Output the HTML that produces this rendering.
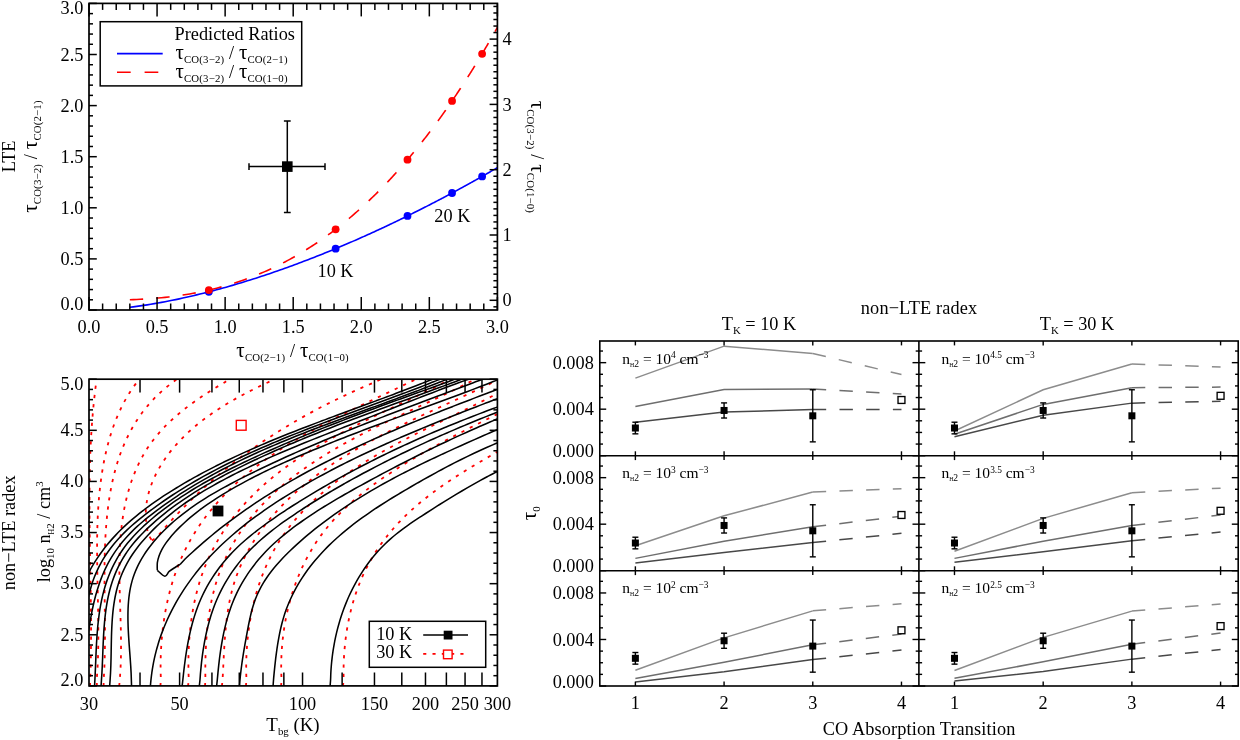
<!DOCTYPE html>
<html lang="en">
<head>
<meta charset="utf-8">
<title>CO optical depth ratios</title>
<style>
html,body{margin:0;padding:0;background:#fff;}
body{width:1240px;height:740px;overflow:hidden;}
svg{display:block;font-family:"Liberation Serif", "DejaVu Serif", serif;will-change:transform;opacity:0.9999;}
text{white-space:pre;}
</style>
</head>
<body>
<svg width="1240" height="740" viewBox="0 0 1240 740">
<rect x="0" y="0" width="1240" height="740" fill="#ffffff"/>
<g id="lte">
<clipPath id="clip1"><rect x="89.0" y="3.4" width="408.4" height="306.6"/></clipPath>
<g clip-path="url(#clip1)">
<path d="M129.85 299.78 L133.25 299.64 L136.69 299.49 L140.17 299.31 L143.68 299.11 L147.22 298.89 L150.77 298.64 L154.34 298.36 L157.91 298.05 L161.48 297.71 L165.06 297.35 L168.62 296.95 L172.18 296.52 L175.73 296.07 L179.26 295.58 L182.78 295.06 L186.28 294.51 L189.75 293.93 L193.2 293.32 L196.63 292.67 L200.03 292 L203.4 291.3 L206.74 290.57 L210.06 289.81 L213.34 289.02 L216.6 288.2 L219.82 287.36 L223.01 286.49 L226.17 285.59 L229.29 284.67 L232.38 283.73 L235.44 282.76 L238.47 281.76 L241.46 280.75 L244.42 279.71 L247.34 278.65 L250.23 277.57 L253.09 276.47 L255.92 275.35 L258.71 274.21 L261.47 273.05 L264.2 271.88 L266.9 270.69 L269.56 269.49 L272.19 268.27 L274.8 267.03 L277.37 265.78 L279.91 264.52 L282.42 263.25 L284.9 261.96 L287.35 260.66 L289.77 259.35 L292.16 258.03 L294.52 256.7 L296.85 255.36 L299.16 254.01 L301.44 252.66 L303.69 251.29 L305.92 249.92 L308.12 248.54 L310.29 247.16 L312.44 245.77 L314.56 244.37 L316.66 242.97 L318.73 241.56 L320.77 240.15 L322.8 238.74 L324.8 237.32 L326.78 235.9 L328.73 234.47 L330.66 233.05 L332.57 231.62 L334.46 230.18 L336.32 228.75 L338.17 227.32 L339.99 225.88 L341.79 224.44 L343.57 223.01 L345.33 221.57 L347.08 220.13 L348.8 218.69 L350.5 217.26 L352.19 215.82 L353.85 214.38 L355.5 212.95 L357.13 211.51 L358.74 210.08 L360.33 208.65 L361.91 207.22 L363.47 205.8 L365.01 204.37 L366.54 202.95 L368.05 201.53 L369.54 200.11 L371.02 198.69 L372.48 197.28 L373.93 195.87 L375.36 194.46 L376.78 193.06 L378.18 191.66 L379.57 190.26 L380.94 188.87 L382.3 187.48 L383.65 186.09 L384.98 184.71 L386.3 183.33 L387.6 181.95 L388.89 180.58 L390.17 179.21 L391.44 177.85 L392.69 176.49 L393.93 175.14 L395.16 173.79 L396.37 172.44 L397.58 171.1 L398.77 169.76 L399.95 168.43 L401.12 167.1 L402.28 165.78 L403.43 164.46 L404.57 163.14 L405.69 161.83 L406.81 160.53 L407.91 159.23 L409.01 157.93 L410.09 156.64 L411.16 155.36 L412.23 154.08 L413.28 152.8 L414.33 151.53 L415.36 150.26 L416.39 149 L417.4 147.75 L418.41 146.5 L419.41 145.25 L420.4 144.01 L421.38 142.77 L422.35 141.54 L423.31 140.31 L424.26 139.09 L425.21 137.88 L426.15 136.67 L427.08 135.46 L428 134.26 L428.91 133.06 L429.82 131.87 L430.71 130.69 L431.6 129.5 L432.49 128.33 L433.36 127.16 L434.23 125.99 L435.09 124.83 L435.94 123.68 L436.79 122.53 L437.62 121.38 L438.46 120.24 L439.28 119.1 L440.1 117.97 L440.91 116.85 L441.71 115.72 L442.51 114.61 L443.3 113.5 L444.09 112.39 L444.87 111.29 L445.64 110.19 L446.41 109.1 L447.17 108.01 L447.92 106.93 L448.67 105.86 L449.41 104.78 L450.15 103.72 L450.88 102.65 L451.6 101.59 L452.32 100.54 L453.04 99.49 L453.75 98.45 L454.45 97.41 L455.15 96.38 L455.84 95.35 L456.52 94.32 L457.21 93.3 L457.88 92.28 L458.55 91.27 L459.22 90.26 L459.88 89.26 L460.54 88.26 L461.19 87.27 L461.84 86.28 L462.48 85.3 L463.12 84.32 L463.75 83.34 L464.38 82.37 L465 81.4 L465.62 80.44 L466.23 79.48 L466.84 78.53 L467.45 77.58 L468.05 76.63 L468.65 75.69 L469.24 74.76 L469.83 73.82 L470.42 72.9 L471 71.97 L471.57 71.05 L472.14 70.14 L472.71 69.22 L473.28 68.32 L473.84 67.41 L474.39 66.51 L474.95 65.62 L475.5 64.73 L476.04 63.84 L476.58 62.95 L477.12 62.08 L477.66 61.2 L478.19 60.33 L478.71 59.46 L479.24 58.6 L479.76 57.74 L480.27 56.88 L480.79 56.03 L481.3 55.18 L481.8 54.33 L482.31 53.49 L482.81 52.65 L483.3 51.82 L483.8 50.99 L484.29 50.16 L484.77 49.34 L485.26 48.52 L485.74 47.71 L486.22 46.89 L486.69 46.09 L487.16 45.28 L487.63 44.48 L488.1 43.68 L488.56 42.89 L489.02 42.1 L489.48 41.31 L489.93 40.52 L490.38 39.74 L490.83 38.97 L491.28 38.19 L491.72 37.42 L492.16 36.66 L492.6 35.89 L493.03 35.13 L493.46 34.37 L493.89 33.62 L494.32 32.87 L494.75 32.12 L495.17 31.38 L495.59 30.64 L496 29.9 L496.42 29.16 L496.83 28.43 L497.24 27.7 L497.65 26.98 L498.05 26.26 L498.45 25.54 L498.85 24.82 L499.25 24.11 L499.65 23.4 L500.04 22.69 L500.43 21.99 L500.82 21.28 L501.2 20.59 L501.59 19.89 L501.97 19.2 L502.35 18.51 L502.73 17.82 L503.1 17.14 L503.47 16.46 L503.84 15.78 L504.21 15.11 L504.58 14.43 L504.94 13.76 L505.31 13.1 L505.67 12.43 L506.03 11.77 L506.38 11.11 L506.74 10.46 L507.09 9.8 L507.44 9.15 L507.79 8.51 L508.14 7.86 L508.48 7.22 L508.83 6.58 L509.17 5.94 L509.51 5.31 L509.84 4.68 L510.18 4.05 L510.51 3.42 L510.85 2.8 L511.18 2.17 L511.5 1.55 L511.83 0.94 L512.16 0.32 L512.48 -0.29 L512.8 -0.9 L513.12 -1.5 L513.44 -2.11 L513.76 -2.71 L514.07 -3.31 L514.38 -3.91 L514.7 -4.5 L515.01 -5.1 L515.32 -5.69 L515.62 -6.27 L515.93 -6.86 L516.23 -7.44 L516.53 -8.02 L516.83 -8.6 L517.13 -9.18 L517.43 -9.75 L517.73 -10.32 L518.02 -10.89 L518.31 -11.46 L518.61 -12.03 L518.9 -12.59 L519.18 -13.15 L519.47 -13.71 L519.76 -14.26 L520.04 -14.82 L520.33 -15.37 L520.61 -15.92 L520.89 -16.47 L521.17 -17.01 L521.44 -17.56 L521.72 -18.1 L521.99 -18.64 L522.27 -19.18 L522.54 -19.71 L522.81 -20.24 L523.08 -20.78 L523.35 -21.3 L523.62 -21.83 L523.88 -22.36 L524.15 -22.88 L524.41 -23.4 L524.67 -23.92 L524.93 -24.44 L525.19 -24.95 L525.45 -25.47 L525.7 -25.98 L525.96 -26.49 L526.21 -27 L526.47 -27.5 L526.72 -28.01 L526.97 -28.51 L527.22 -29.01 L527.47 -29.51 L527.72 -30 L527.96 -30.5 L528.21 -30.99 L528.45 -31.48 L528.69 -31.97 L528.94 -32.46 L529.18 -32.94 L529.42 -33.43 L529.66 -33.91 L529.89 -34.39 L530.13 -34.87 L530.36 -35.34 L530.6 -35.82 L530.83 -36.29 L531.06 -36.76 L531.29 -37.23 L531.52 -37.7 L531.75 -38.17 L531.98 -38.63 L532.21 -39.1 L532.43 -39.56" fill="none" stroke="#ff0000" stroke-width="1.6" stroke-dasharray="13.3 13.2"/>
<path d="M129.85 307.27 L133.25 306.84 L136.69 306.38 L140.17 305.9 L143.68 305.38 L147.22 304.84 L150.77 304.26 L154.34 303.66 L157.91 303.04 L161.48 302.4 L165.06 301.73 L168.62 301.04 L172.18 300.33 L175.73 299.6 L179.26 298.85 L182.78 298.09 L186.28 297.31 L189.75 296.52 L193.2 295.72 L196.63 294.9 L200.03 294.07 L203.4 293.24 L206.74 292.39 L210.06 291.53 L213.34 290.67 L216.6 289.8 L219.82 288.92 L223.01 288.04 L226.17 287.16 L229.29 286.27 L232.38 285.37 L235.44 284.47 L238.47 283.57 L241.46 282.67 L244.42 281.77 L247.34 280.86 L250.23 279.96 L253.09 279.06 L255.92 278.15 L258.71 277.25 L261.47 276.34 L264.2 275.44 L266.9 274.54 L269.56 273.64 L272.19 272.74 L274.8 271.85 L277.37 270.96 L279.91 270.07 L282.42 269.18 L284.9 268.3 L287.35 267.42 L289.77 266.54 L292.16 265.67 L294.52 264.8 L296.85 263.94 L299.16 263.08 L301.44 262.22 L303.69 261.37 L305.92 260.52 L308.12 259.67 L310.29 258.84 L312.44 258 L314.56 257.17 L316.66 256.35 L318.73 255.53 L320.77 254.71 L322.8 253.9 L324.8 253.09 L326.78 252.29 L328.73 251.5 L330.66 250.71 L332.57 249.92 L334.46 249.14 L336.32 248.36 L338.17 247.59 L339.99 246.83 L341.79 246.07 L343.57 245.31 L345.33 244.56 L347.08 243.82 L348.8 243.08 L350.5 242.34 L352.19 241.61 L353.85 240.88 L355.5 240.16 L357.13 239.45 L358.74 238.74 L360.33 238.04 L361.91 237.33 L363.47 236.64 L365.01 235.95 L366.54 235.26 L368.05 234.58 L369.54 233.91 L371.02 233.24 L372.48 232.57 L373.93 231.91 L375.36 231.25 L376.78 230.6 L378.18 229.96 L379.57 229.31 L380.94 228.68 L382.3 228.04 L383.65 227.41 L384.98 226.79 L386.3 226.17 L387.6 225.56 L388.89 224.95 L390.17 224.34 L391.44 223.74 L392.69 223.14 L393.93 222.55 L395.16 221.96 L396.37 221.37 L397.58 220.79 L398.77 220.22 L399.95 219.64 L401.12 219.08 L402.28 218.51 L403.43 217.95 L404.57 217.4 L405.69 216.84 L406.81 216.3 L407.91 215.75 L409.01 215.21 L410.09 214.68 L411.16 214.14 L412.23 213.61 L413.28 213.09 L414.33 212.57 L415.36 212.05 L416.39 211.54 L417.4 211.03 L418.41 210.52 L419.41 210.02 L420.4 209.52 L421.38 209.02 L422.35 208.53 L423.31 208.04 L424.26 207.55 L425.21 207.07 L426.15 206.59 L427.08 206.12 L428 205.64 L428.91 205.17 L429.82 204.71 L430.71 204.24 L431.6 203.79 L432.49 203.33 L433.36 202.88 L434.23 202.42 L435.09 201.98 L435.94 201.53 L436.79 201.09 L437.62 200.65 L438.46 200.22 L439.28 199.79 L440.1 199.36 L440.91 198.93 L441.71 198.51 L442.51 198.08 L443.3 197.67 L444.09 197.25 L444.87 196.84 L445.64 196.43 L446.41 196.02 L447.17 195.62 L447.92 195.21 L448.67 194.82 L449.41 194.42 L450.15 194.02 L450.88 193.63 L451.6 193.24 L452.32 192.86 L453.04 192.47 L453.75 192.09 L454.45 191.71 L455.15 191.34 L455.84 190.96 L456.52 190.59 L457.21 190.22 L457.88 189.85 L458.55 189.49 L459.22 189.13 L459.88 188.77 L460.54 188.41 L461.19 188.05 L461.84 187.7 L462.48 187.35 L463.12 187 L463.75 186.65 L464.38 186.31 L465 185.96 L465.62 185.62 L466.23 185.28 L466.84 184.95 L467.45 184.61 L468.05 184.28 L468.65 183.95 L469.24 183.62 L469.83 183.3 L470.42 182.97 L471 182.65 L471.57 182.33 L472.14 182.01 L472.71 181.69 L473.28 181.38 L473.84 181.07 L474.39 180.75 L474.95 180.44 L475.5 180.14 L476.04 179.83 L476.58 179.53 L477.12 179.23 L477.66 178.93 L478.19 178.63 L478.71 178.33 L479.24 178.04 L479.76 177.74 L480.27 177.45 L480.79 177.16 L481.3 176.87 L481.8 176.59 L482.31 176.3 L482.81 176.02 L483.3 175.73 L483.8 175.45 L484.29 175.18 L484.77 174.9 L485.26 174.62 L485.74 174.35 L486.22 174.08 L486.69 173.81 L487.16 173.54 L487.63 173.27 L488.1 173 L488.56 172.74 L489.02 172.47 L489.48 172.21 L489.93 171.95 L490.38 171.69 L490.83 171.43 L491.28 171.18 L491.72 170.92 L492.16 170.67 L492.6 170.42 L493.03 170.17 L493.46 169.92 L493.89 169.67 L494.32 169.42 L494.75 169.18 L495.17 168.93 L495.59 168.69 L496 168.45 L496.42 168.21 L496.83 167.97 L497.24 167.73 L497.65 167.5 L498.05 167.26 L498.45 167.03 L498.85 166.79 L499.25 166.56 L499.65 166.33 L500.04 166.1 L500.43 165.87 L500.82 165.65 L501.2 165.42 L501.59 165.2 L501.97 164.97 L502.35 164.75 L502.73 164.53 L503.1 164.31 L503.47 164.09 L503.84 163.87 L504.21 163.66 L504.58 163.44 L504.94 163.23 L505.31 163.01 L505.67 162.8 L506.03 162.59 L506.38 162.38 L506.74 162.17 L507.09 161.96 L507.44 161.76 L507.79 161.55 L508.14 161.34 L508.48 161.14 L508.83 160.94 L509.17 160.74 L509.51 160.53 L509.84 160.33 L510.18 160.14 L510.51 159.94 L510.85 159.74 L511.18 159.54 L511.5 159.35 L511.83 159.15 L512.16 158.96 L512.48 158.77 L512.8 158.58 L513.12 158.39 L513.44 158.2 L513.76 158.01 L514.07 157.82 L514.38 157.63 L514.7 157.45 L515.01 157.26 L515.32 157.08 L515.62 156.89 L515.93 156.71 L516.23 156.53 L516.53 156.35 L516.83 156.17 L517.13 155.99 L517.43 155.81 L517.73 155.63 L518.02 155.46 L518.31 155.28 L518.61 155.1 L518.9 154.93 L519.18 154.76 L519.47 154.58 L519.76 154.41 L520.04 154.24 L520.33 154.07 L520.61 153.9 L520.89 153.73 L521.17 153.56 L521.44 153.4 L521.72 153.23 L521.99 153.06 L522.27 152.9 L522.54 152.73 L522.81 152.57 L523.08 152.41 L523.35 152.24 L523.62 152.08 L523.88 151.92 L524.15 151.76 L524.41 151.6 L524.67 151.44 L524.93 151.28 L525.19 151.13 L525.45 150.97 L525.7 150.81 L525.96 150.66 L526.21 150.5 L526.47 150.35 L526.72 150.2 L526.97 150.04 L527.22 149.89 L527.47 149.74 L527.72 149.59 L527.96 149.44 L528.21 149.29 L528.45 149.14 L528.69 148.99 L528.94 148.85 L529.18 148.7 L529.42 148.55 L529.66 148.41 L529.89 148.26 L530.13 148.12 L530.36 147.97 L530.6 147.83 L530.83 147.69 L531.06 147.55 L531.29 147.4 L531.52 147.26 L531.75 147.12 L531.98 146.98 L532.21 146.84 L532.43 146.71" fill="none" stroke="#0000ff" stroke-width="1.6" />
</g>
<circle cx="208.84" cy="291.85" r="3.9" fill="#0000ff"/>
<circle cx="208.84" cy="290.09" r="3.9" fill="#ff0000"/>
<circle cx="335.63" cy="248.65" r="3.9" fill="#0000ff"/>
<circle cx="335.63" cy="229.28" r="3.9" fill="#ff0000"/>
<circle cx="407.5" cy="215.95" r="3.9" fill="#0000ff"/>
<circle cx="407.5" cy="159.71" r="3.9" fill="#ff0000"/>
<circle cx="452.06" cy="193" r="3.9" fill="#0000ff"/>
<circle cx="452.06" cy="100.93" r="3.9" fill="#ff0000"/>
<circle cx="482.12" cy="176.41" r="3.9" fill="#0000ff"/>
<circle cx="482.12" cy="53.8" r="3.9" fill="#ff0000"/>
<rect x="89" y="3.4" width="408.4" height="306.6" fill="none" stroke="#000" stroke-width="1.7" />
<line x1="89" y1="310" x2="89" y2="297" stroke="#000" stroke-width="1.5" />
<line x1="89" y1="3.4" x2="89" y2="16.4" stroke="#000" stroke-width="1.5" />
<line x1="89" y1="310" x2="96.8" y2="310" stroke="#000" stroke-width="1.5" />
<line x1="102.61" y1="310" x2="102.61" y2="303.5" stroke="#000" stroke-width="1.5" />
<line x1="102.61" y1="3.4" x2="102.61" y2="9.9" stroke="#000" stroke-width="1.5" />
<line x1="89" y1="299.78" x2="93" y2="299.78" stroke="#000" stroke-width="1.5" />
<line x1="116.23" y1="310" x2="116.23" y2="303.5" stroke="#000" stroke-width="1.5" />
<line x1="116.23" y1="3.4" x2="116.23" y2="9.9" stroke="#000" stroke-width="1.5" />
<line x1="89" y1="289.56" x2="93" y2="289.56" stroke="#000" stroke-width="1.5" />
<line x1="129.84" y1="310" x2="129.84" y2="303.5" stroke="#000" stroke-width="1.5" />
<line x1="129.84" y1="3.4" x2="129.84" y2="9.9" stroke="#000" stroke-width="1.5" />
<line x1="89" y1="279.34" x2="93" y2="279.34" stroke="#000" stroke-width="1.5" />
<line x1="143.45" y1="310" x2="143.45" y2="303.5" stroke="#000" stroke-width="1.5" />
<line x1="143.45" y1="3.4" x2="143.45" y2="9.9" stroke="#000" stroke-width="1.5" />
<line x1="89" y1="269.12" x2="93" y2="269.12" stroke="#000" stroke-width="1.5" />
<line x1="157.07" y1="310" x2="157.07" y2="297" stroke="#000" stroke-width="1.5" />
<line x1="157.07" y1="3.4" x2="157.07" y2="16.4" stroke="#000" stroke-width="1.5" />
<line x1="89" y1="258.9" x2="96.8" y2="258.9" stroke="#000" stroke-width="1.5" />
<line x1="170.68" y1="310" x2="170.68" y2="303.5" stroke="#000" stroke-width="1.5" />
<line x1="170.68" y1="3.4" x2="170.68" y2="9.9" stroke="#000" stroke-width="1.5" />
<line x1="89" y1="248.68" x2="93" y2="248.68" stroke="#000" stroke-width="1.5" />
<line x1="184.29" y1="310" x2="184.29" y2="303.5" stroke="#000" stroke-width="1.5" />
<line x1="184.29" y1="3.4" x2="184.29" y2="9.9" stroke="#000" stroke-width="1.5" />
<line x1="89" y1="238.46" x2="93" y2="238.46" stroke="#000" stroke-width="1.5" />
<line x1="197.91" y1="310" x2="197.91" y2="303.5" stroke="#000" stroke-width="1.5" />
<line x1="197.91" y1="3.4" x2="197.91" y2="9.9" stroke="#000" stroke-width="1.5" />
<line x1="89" y1="228.24" x2="93" y2="228.24" stroke="#000" stroke-width="1.5" />
<line x1="211.52" y1="310" x2="211.52" y2="303.5" stroke="#000" stroke-width="1.5" />
<line x1="211.52" y1="3.4" x2="211.52" y2="9.9" stroke="#000" stroke-width="1.5" />
<line x1="89" y1="218.02" x2="93" y2="218.02" stroke="#000" stroke-width="1.5" />
<line x1="225.13" y1="310" x2="225.13" y2="297" stroke="#000" stroke-width="1.5" />
<line x1="225.13" y1="3.4" x2="225.13" y2="16.4" stroke="#000" stroke-width="1.5" />
<line x1="89" y1="207.8" x2="96.8" y2="207.8" stroke="#000" stroke-width="1.5" />
<line x1="238.75" y1="310" x2="238.75" y2="303.5" stroke="#000" stroke-width="1.5" />
<line x1="238.75" y1="3.4" x2="238.75" y2="9.9" stroke="#000" stroke-width="1.5" />
<line x1="89" y1="197.58" x2="93" y2="197.58" stroke="#000" stroke-width="1.5" />
<line x1="252.36" y1="310" x2="252.36" y2="303.5" stroke="#000" stroke-width="1.5" />
<line x1="252.36" y1="3.4" x2="252.36" y2="9.9" stroke="#000" stroke-width="1.5" />
<line x1="89" y1="187.36" x2="93" y2="187.36" stroke="#000" stroke-width="1.5" />
<line x1="265.97" y1="310" x2="265.97" y2="303.5" stroke="#000" stroke-width="1.5" />
<line x1="265.97" y1="3.4" x2="265.97" y2="9.9" stroke="#000" stroke-width="1.5" />
<line x1="89" y1="177.14" x2="93" y2="177.14" stroke="#000" stroke-width="1.5" />
<line x1="279.59" y1="310" x2="279.59" y2="303.5" stroke="#000" stroke-width="1.5" />
<line x1="279.59" y1="3.4" x2="279.59" y2="9.9" stroke="#000" stroke-width="1.5" />
<line x1="89" y1="166.92" x2="93" y2="166.92" stroke="#000" stroke-width="1.5" />
<line x1="293.2" y1="310" x2="293.2" y2="297" stroke="#000" stroke-width="1.5" />
<line x1="293.2" y1="3.4" x2="293.2" y2="16.4" stroke="#000" stroke-width="1.5" />
<line x1="89" y1="156.7" x2="96.8" y2="156.7" stroke="#000" stroke-width="1.5" />
<line x1="306.81" y1="310" x2="306.81" y2="303.5" stroke="#000" stroke-width="1.5" />
<line x1="306.81" y1="3.4" x2="306.81" y2="9.9" stroke="#000" stroke-width="1.5" />
<line x1="89" y1="146.48" x2="93" y2="146.48" stroke="#000" stroke-width="1.5" />
<line x1="320.43" y1="310" x2="320.43" y2="303.5" stroke="#000" stroke-width="1.5" />
<line x1="320.43" y1="3.4" x2="320.43" y2="9.9" stroke="#000" stroke-width="1.5" />
<line x1="89" y1="136.26" x2="93" y2="136.26" stroke="#000" stroke-width="1.5" />
<line x1="334.04" y1="310" x2="334.04" y2="303.5" stroke="#000" stroke-width="1.5" />
<line x1="334.04" y1="3.4" x2="334.04" y2="9.9" stroke="#000" stroke-width="1.5" />
<line x1="89" y1="126.04" x2="93" y2="126.04" stroke="#000" stroke-width="1.5" />
<line x1="347.65" y1="310" x2="347.65" y2="303.5" stroke="#000" stroke-width="1.5" />
<line x1="347.65" y1="3.4" x2="347.65" y2="9.9" stroke="#000" stroke-width="1.5" />
<line x1="89" y1="115.82" x2="93" y2="115.82" stroke="#000" stroke-width="1.5" />
<line x1="361.27" y1="310" x2="361.27" y2="297" stroke="#000" stroke-width="1.5" />
<line x1="361.27" y1="3.4" x2="361.27" y2="16.4" stroke="#000" stroke-width="1.5" />
<line x1="89" y1="105.6" x2="96.8" y2="105.6" stroke="#000" stroke-width="1.5" />
<line x1="374.88" y1="310" x2="374.88" y2="303.5" stroke="#000" stroke-width="1.5" />
<line x1="374.88" y1="3.4" x2="374.88" y2="9.9" stroke="#000" stroke-width="1.5" />
<line x1="89" y1="95.38" x2="93" y2="95.38" stroke="#000" stroke-width="1.5" />
<line x1="388.49" y1="310" x2="388.49" y2="303.5" stroke="#000" stroke-width="1.5" />
<line x1="388.49" y1="3.4" x2="388.49" y2="9.9" stroke="#000" stroke-width="1.5" />
<line x1="89" y1="85.16" x2="93" y2="85.16" stroke="#000" stroke-width="1.5" />
<line x1="402.11" y1="310" x2="402.11" y2="303.5" stroke="#000" stroke-width="1.5" />
<line x1="402.11" y1="3.4" x2="402.11" y2="9.9" stroke="#000" stroke-width="1.5" />
<line x1="89" y1="74.94" x2="93" y2="74.94" stroke="#000" stroke-width="1.5" />
<line x1="415.72" y1="310" x2="415.72" y2="303.5" stroke="#000" stroke-width="1.5" />
<line x1="415.72" y1="3.4" x2="415.72" y2="9.9" stroke="#000" stroke-width="1.5" />
<line x1="89" y1="64.72" x2="93" y2="64.72" stroke="#000" stroke-width="1.5" />
<line x1="429.33" y1="310" x2="429.33" y2="297" stroke="#000" stroke-width="1.5" />
<line x1="429.33" y1="3.4" x2="429.33" y2="16.4" stroke="#000" stroke-width="1.5" />
<line x1="89" y1="54.5" x2="96.8" y2="54.5" stroke="#000" stroke-width="1.5" />
<line x1="442.95" y1="310" x2="442.95" y2="303.5" stroke="#000" stroke-width="1.5" />
<line x1="442.95" y1="3.4" x2="442.95" y2="9.9" stroke="#000" stroke-width="1.5" />
<line x1="89" y1="44.28" x2="93" y2="44.28" stroke="#000" stroke-width="1.5" />
<line x1="456.56" y1="310" x2="456.56" y2="303.5" stroke="#000" stroke-width="1.5" />
<line x1="456.56" y1="3.4" x2="456.56" y2="9.9" stroke="#000" stroke-width="1.5" />
<line x1="89" y1="34.06" x2="93" y2="34.06" stroke="#000" stroke-width="1.5" />
<line x1="470.17" y1="310" x2="470.17" y2="303.5" stroke="#000" stroke-width="1.5" />
<line x1="470.17" y1="3.4" x2="470.17" y2="9.9" stroke="#000" stroke-width="1.5" />
<line x1="89" y1="23.84" x2="93" y2="23.84" stroke="#000" stroke-width="1.5" />
<line x1="483.79" y1="310" x2="483.79" y2="303.5" stroke="#000" stroke-width="1.5" />
<line x1="483.79" y1="3.4" x2="483.79" y2="9.9" stroke="#000" stroke-width="1.5" />
<line x1="89" y1="13.62" x2="93" y2="13.62" stroke="#000" stroke-width="1.5" />
<line x1="497.4" y1="310" x2="497.4" y2="297" stroke="#000" stroke-width="1.5" />
<line x1="497.4" y1="3.4" x2="497.4" y2="16.4" stroke="#000" stroke-width="1.5" />
<line x1="89" y1="3.4" x2="96.8" y2="3.4" stroke="#000" stroke-width="1.5" />
<line x1="497.4" y1="306.83" x2="493.4" y2="306.83" stroke="#000" stroke-width="1.5" />
<line x1="497.4" y1="300.3" x2="489.6" y2="300.3" stroke="#000" stroke-width="1.5" />
<line x1="497.4" y1="293.77" x2="493.4" y2="293.77" stroke="#000" stroke-width="1.5" />
<line x1="497.4" y1="287.24" x2="493.4" y2="287.24" stroke="#000" stroke-width="1.5" />
<line x1="497.4" y1="280.71" x2="493.4" y2="280.71" stroke="#000" stroke-width="1.5" />
<line x1="497.4" y1="274.18" x2="493.4" y2="274.18" stroke="#000" stroke-width="1.5" />
<line x1="497.4" y1="267.65" x2="493.4" y2="267.65" stroke="#000" stroke-width="1.5" />
<line x1="497.4" y1="261.12" x2="493.4" y2="261.12" stroke="#000" stroke-width="1.5" />
<line x1="497.4" y1="254.59" x2="493.4" y2="254.59" stroke="#000" stroke-width="1.5" />
<line x1="497.4" y1="248.06" x2="493.4" y2="248.06" stroke="#000" stroke-width="1.5" />
<line x1="497.4" y1="241.53" x2="493.4" y2="241.53" stroke="#000" stroke-width="1.5" />
<line x1="497.4" y1="235" x2="489.6" y2="235" stroke="#000" stroke-width="1.5" />
<line x1="497.4" y1="228.47" x2="493.4" y2="228.47" stroke="#000" stroke-width="1.5" />
<line x1="497.4" y1="221.94" x2="493.4" y2="221.94" stroke="#000" stroke-width="1.5" />
<line x1="497.4" y1="215.41" x2="493.4" y2="215.41" stroke="#000" stroke-width="1.5" />
<line x1="497.4" y1="208.88" x2="493.4" y2="208.88" stroke="#000" stroke-width="1.5" />
<line x1="497.4" y1="202.35" x2="493.4" y2="202.35" stroke="#000" stroke-width="1.5" />
<line x1="497.4" y1="195.82" x2="493.4" y2="195.82" stroke="#000" stroke-width="1.5" />
<line x1="497.4" y1="189.29" x2="493.4" y2="189.29" stroke="#000" stroke-width="1.5" />
<line x1="497.4" y1="182.76" x2="493.4" y2="182.76" stroke="#000" stroke-width="1.5" />
<line x1="497.4" y1="176.23" x2="493.4" y2="176.23" stroke="#000" stroke-width="1.5" />
<line x1="497.4" y1="169.7" x2="489.6" y2="169.7" stroke="#000" stroke-width="1.5" />
<line x1="497.4" y1="163.17" x2="493.4" y2="163.17" stroke="#000" stroke-width="1.5" />
<line x1="497.4" y1="156.64" x2="493.4" y2="156.64" stroke="#000" stroke-width="1.5" />
<line x1="497.4" y1="150.11" x2="493.4" y2="150.11" stroke="#000" stroke-width="1.5" />
<line x1="497.4" y1="143.58" x2="493.4" y2="143.58" stroke="#000" stroke-width="1.5" />
<line x1="497.4" y1="137.05" x2="493.4" y2="137.05" stroke="#000" stroke-width="1.5" />
<line x1="497.4" y1="130.52" x2="493.4" y2="130.52" stroke="#000" stroke-width="1.5" />
<line x1="497.4" y1="123.99" x2="493.4" y2="123.99" stroke="#000" stroke-width="1.5" />
<line x1="497.4" y1="117.46" x2="493.4" y2="117.46" stroke="#000" stroke-width="1.5" />
<line x1="497.4" y1="110.93" x2="493.4" y2="110.93" stroke="#000" stroke-width="1.5" />
<line x1="497.4" y1="104.4" x2="489.6" y2="104.4" stroke="#000" stroke-width="1.5" />
<line x1="497.4" y1="97.87" x2="493.4" y2="97.87" stroke="#000" stroke-width="1.5" />
<line x1="497.4" y1="91.34" x2="493.4" y2="91.34" stroke="#000" stroke-width="1.5" />
<line x1="497.4" y1="84.81" x2="493.4" y2="84.81" stroke="#000" stroke-width="1.5" />
<line x1="497.4" y1="78.28" x2="493.4" y2="78.28" stroke="#000" stroke-width="1.5" />
<line x1="497.4" y1="71.75" x2="493.4" y2="71.75" stroke="#000" stroke-width="1.5" />
<line x1="497.4" y1="65.22" x2="493.4" y2="65.22" stroke="#000" stroke-width="1.5" />
<line x1="497.4" y1="58.69" x2="493.4" y2="58.69" stroke="#000" stroke-width="1.5" />
<line x1="497.4" y1="52.16" x2="493.4" y2="52.16" stroke="#000" stroke-width="1.5" />
<line x1="497.4" y1="45.63" x2="493.4" y2="45.63" stroke="#000" stroke-width="1.5" />
<line x1="497.4" y1="39.1" x2="489.6" y2="39.1" stroke="#000" stroke-width="1.5" />
<line x1="497.4" y1="32.57" x2="493.4" y2="32.57" stroke="#000" stroke-width="1.5" />
<line x1="497.4" y1="26.04" x2="493.4" y2="26.04" stroke="#000" stroke-width="1.5" />
<line x1="497.4" y1="19.51" x2="493.4" y2="19.51" stroke="#000" stroke-width="1.5" />
<line x1="497.4" y1="12.98" x2="493.4" y2="12.98" stroke="#000" stroke-width="1.5" />
<line x1="497.4" y1="6.45" x2="493.4" y2="6.45" stroke="#000" stroke-width="1.5" />
<text x="89" y="333.1" font-size="18.3" text-anchor="middle" fill="#000" >0.0</text>
<text x="83.4" y="310.2" font-size="18.3" text-anchor="end" fill="#000" >0.0</text>
<text x="157.07" y="333.1" font-size="18.3" text-anchor="middle" fill="#000" >0.5</text>
<text x="83.4" y="265.1" font-size="18.3" text-anchor="end" fill="#000" >0.5</text>
<text x="225.13" y="333.1" font-size="18.3" text-anchor="middle" fill="#000" >1.0</text>
<text x="83.4" y="214" font-size="18.3" text-anchor="end" fill="#000" >1.0</text>
<text x="293.2" y="333.1" font-size="18.3" text-anchor="middle" fill="#000" >1.5</text>
<text x="83.4" y="162.9" font-size="18.3" text-anchor="end" fill="#000" >1.5</text>
<text x="361.27" y="333.1" font-size="18.3" text-anchor="middle" fill="#000" >2.0</text>
<text x="83.4" y="111.8" font-size="18.3" text-anchor="end" fill="#000" >2.0</text>
<text x="429.33" y="333.1" font-size="18.3" text-anchor="middle" fill="#000" >2.5</text>
<text x="83.4" y="60.7" font-size="18.3" text-anchor="end" fill="#000" >2.5</text>
<text x="497.4" y="333.1" font-size="18.3" text-anchor="middle" fill="#000" >3.0</text>
<text x="83.4" y="13.5" font-size="18.3" text-anchor="end" fill="#000" >3.0</text>
<text x="502.6" y="306.4" font-size="18.3" text-anchor="start" fill="#000" >0</text>
<text x="502.6" y="241.1" font-size="18.3" text-anchor="start" fill="#000" >1</text>
<text x="502.6" y="175.8" font-size="18.3" text-anchor="start" fill="#000" >2</text>
<text x="502.6" y="110.5" font-size="18.3" text-anchor="start" fill="#000" >3</text>
<text x="502.6" y="45.2" font-size="18.3" text-anchor="start" fill="#000" >4</text>
<line x1="249" y1="166.6" x2="325" y2="166.6" stroke="#000" stroke-width="1.5" />
<line x1="249" y1="163.2" x2="249" y2="170" stroke="#000" stroke-width="1.5" />
<line x1="325" y1="163.2" x2="325" y2="170" stroke="#000" stroke-width="1.5" />
<line x1="287.3" y1="121" x2="287.3" y2="212.5" stroke="#000" stroke-width="1.5" />
<line x1="283.9" y1="121" x2="290.7" y2="121" stroke="#000" stroke-width="1.5" />
<line x1="283.9" y1="212.5" x2="290.7" y2="212.5" stroke="#000" stroke-width="1.5" />
<rect x="282" y="161.3" width="10.6" height="10.6" fill="#000" stroke="none" stroke-width="0" />
<text x="317.5" y="276.5" font-size="18.3" text-anchor="start" fill="#000" >10 K</text>
<text x="434.3" y="221.5" font-size="18.3" text-anchor="start" fill="#000" >20 K</text>
<rect x="100.2" y="21.7" width="201.5" height="64.2" fill="#fff" stroke="#000" stroke-width="1.5" />
<text x="174.6" y="39.8" font-size="18.3" text-anchor="start" fill="#000" >Predicted Ratios</text>
<line x1="117" y1="53.6" x2="162.7" y2="53.6" stroke="#0000ff" stroke-width="1.6" />
<line x1="117" y1="72.3" x2="158.3" y2="72.3" stroke="#ff0000" stroke-width="1.6" stroke-dasharray="13.7 13.9"/>
<text x="175.5" y="58.8" font-size="18.3" text-anchor="start" fill="#000"  textLength="112"><tspan font-size="20.8">τ</tspan><tspan font-size="10.8" dy="4.3">CO(3−2)</tspan><tspan dy="-4.3"> / </tspan><tspan font-size="20.8">τ</tspan><tspan font-size="10.8" dy="4.3">CO(2−1)</tspan></text>
<text x="175.5" y="77.5" font-size="18.3" text-anchor="start" fill="#000"  textLength="112"><tspan font-size="20.8">τ</tspan><tspan font-size="10.8" dy="4.3">CO(3−2)</tspan><tspan dy="-4.3"> / </tspan><tspan font-size="20.8">τ</tspan><tspan font-size="10.8" dy="4.3">CO(1−0)</tspan></text>
<text x="292.5" y="356.9" font-size="18.3" text-anchor="middle" fill="#000"  textLength="112.3"><tspan font-size="20.8">τ</tspan><tspan font-size="10.8" dy="4.3">CO(2−1)</tspan><tspan dy="-4.3"> / </tspan><tspan font-size="20.8">τ</tspan><tspan font-size="10.8" dy="4.3">CO(1−0)</tspan></text>
<text x="14.6" y="156.4" font-size="18.3" text-anchor="middle" fill="#000" transform="rotate(-90 14.6 156.4)">LTE</text>
<text x="37.2" y="156.6" font-size="18.3" text-anchor="middle" fill="#000" transform="rotate(-90 37.2 156.6)" textLength="112.3"><tspan font-size="20.8">τ</tspan><tspan font-size="10.8" dy="4.3">CO(3−2)</tspan><tspan dy="-4.3"> / </tspan><tspan font-size="20.8">τ</tspan><tspan font-size="10.8" dy="4.3">CO(2−1)</tspan></text>
<text x="531.1" y="156.8" font-size="18.3" text-anchor="middle" fill="#000" transform="rotate(90 531.1 156.8)" textLength="112.3"><tspan font-size="20.8">τ</tspan><tspan font-size="10.8" dy="4.3">CO(3−2)</tspan><tspan dy="-4.3"> / </tspan><tspan font-size="20.8">τ</tspan><tspan font-size="10.8" dy="4.3">CO(1−0)</tspan></text>
</g>
<g id="contour">
<clipPath id="clip2"><rect x="89.0" y="379.2" width="408.4" height="306.7"/></clipPath>
<g clip-path="url(#clip2)">
<path d="M90 686.2 C90.04 685.01 90.15 681.42 90.23 679.04 C90.31 676.65 90.4 674.27 90.48 671.88 C90.55 669.49 90.62 667.11 90.68 664.72 C90.73 662.33 90.78 659.94 90.83 657.55 C90.87 655.16 90.91 652.77 90.94 650.38 C90.97 647.99 90.99 645.6 91.01 643.21 C91.03 640.82 91.04 638.43 91.05 636.04 C91.06 633.65 91.06 631.26 91.05 628.86 C91.05 626.47 91.04 624.08 91.03 621.68 C91.02 619.29 91 616.9 90.98 614.5 C90.96 612.11 90.94 609.72 90.91 607.32 C90.88 604.93 90.85 602.53 90.82 600.14 C90.79 597.74 90.75 595.35 90.71 592.95 C90.68 590.56 90.64 588.16 90.6 585.77 C90.56 583.37 90.51 580.98 90.47 578.58 C90.43 576.19 90.38 573.79 90.34 571.4 C90.3 569 90.25 566.6 90.21 564.21 C90.16 561.81 90.12 559.42 90.07 557.02 C90.03 554.63 89.99 552.23 89.95 549.83 C89.91 547.44 89.87 545.04 89.83 542.65 C89.79 540.25 89.75 537.86 89.72 535.46 C89.68 533.06 89.65 530.67 89.62 528.27 C89.6 525.88 89.57 523.48 89.55 521.09 C89.53 518.69 89.51 516.3 89.49 513.91 C89.48 511.51 89.47 509.12 89.46 506.72 C89.45 504.33 89.45 501.94 89.46 499.54 C89.46 497.15 89.47 494.76 89.48 492.36 C89.5 489.97 89.52 487.58 89.55 485.19 C89.57 482.79 89.61 480.4 89.65 478.01 C89.69 475.62 89.73 473.23 89.79 470.84 C89.84 468.45 89.9 466.06 89.97 463.67 C90.04 461.28 90.12 458.89 90.2 456.5 C90.29 454.12 90.38 451.73 90.49 449.34 C90.59 446.95 90.7 444.57 90.83 442.18 C90.95 439.8 91.08 437.41 91.22 435.02 C91.36 432.64 91.51 430.26 91.68 427.87 C91.84 425.49 92.01 423.11 92.2 420.72 C92.38 418.34 92.58 415.96 92.78 413.58 C92.99 411.2 93.21 408.82 93.44 406.44 C93.68 404.06 93.92 401.68 94.18 399.31 C94.43 396.93 94.7 394.55 94.99 392.18 C95.27 389.8 95.49 387.41 95.88 385.05 C96.26 382.69 97.06 379.18 97.3 378" fill="none" stroke="#ff0000" stroke-width="1.8" stroke-dasharray="3.2 6.1"/>
<path d="M96.9 686.2 C96.89 684.98 96.75 681.29 96.82 678.9 C96.88 676.51 97.16 674.21 97.3 671.86 C97.45 669.5 97.57 667.14 97.68 664.78 C97.79 662.42 97.89 660.05 97.97 657.67 C98.05 655.3 98.11 652.92 98.16 650.54 C98.22 648.16 98.25 645.77 98.28 643.38 C98.31 640.99 98.33 638.59 98.33 636.19 C98.34 633.8 98.34 631.39 98.33 628.99 C98.32 626.58 98.3 624.18 98.27 621.76 C98.25 619.35 98.21 616.94 98.18 614.53 C98.14 612.11 98.1 609.69 98.05 607.27 C98 604.85 97.95 602.43 97.9 600.01 C97.85 597.58 97.8 595.16 97.74 592.73 C97.69 590.31 97.64 587.88 97.58 585.45 C97.53 583.02 97.48 580.6 97.43 578.17 C97.38 575.74 97.34 573.31 97.3 570.88 C97.26 568.45 97.22 566.02 97.19 563.59 C97.16 561.17 97.13 558.74 97.11 556.31 C97.1 553.88 97.09 551.46 97.09 549.03 C97.09 546.61 97.09 544.18 97.11 541.76 C97.13 539.34 97.16 536.92 97.2 534.5 C97.24 532.08 97.3 529.66 97.37 527.25 C97.44 524.84 97.52 522.42 97.61 520.02 C97.71 517.61 97.82 515.2 97.95 512.8 C98.08 510.4 98.23 508 98.39 505.6 C98.56 503.21 98.74 500.81 98.95 498.42 C99.15 496.04 99.37 493.65 99.62 491.27 C99.87 488.89 100.13 486.52 100.42 484.15 C100.72 481.78 101.03 479.41 101.37 477.05 C101.71 474.69 102.07 472.33 102.46 469.99 C102.85 467.64 103.27 465.29 103.71 462.95 C104.16 460.62 104.63 458.28 105.13 455.96 C105.63 453.63 106.16 451.31 106.72 449 C107.29 446.69 107.88 444.38 108.51 442.08 C109.14 439.79 109.8 437.5 110.5 435.22 C111.2 432.94 111.93 430.68 112.71 428.42 C113.48 426.17 114.3 423.93 115.16 421.7 C116.02 419.47 116.91 417.26 117.86 415.07 C118.81 412.87 119.8 410.69 120.84 408.53 C121.88 406.37 122.97 404.23 124.11 402.11 C125.26 399.99 126.45 397.88 127.69 395.81 C128.94 393.73 130.24 391.67 131.6 389.64 C132.96 387.61 134.4 385.56 135.85 383.62 C137.3 381.68 139.56 378.94 140.3 378" fill="none" stroke="#ff0000" stroke-width="1.8" stroke-dasharray="3.2 6.1"/>
<path d="M103.6 686.2 C103.62 684.98 103.64 681.3 103.74 678.91 C103.83 676.52 104.03 674.22 104.16 671.87 C104.28 669.52 104.39 667.17 104.48 664.8 C104.57 662.44 104.65 660.08 104.71 657.71 C104.78 655.34 104.83 652.97 104.87 650.59 C104.91 648.21 104.94 645.83 104.96 643.45 C104.98 641.06 104.99 638.68 104.99 636.29 C104.99 633.89 104.99 631.5 104.98 629.1 C104.97 626.71 104.95 624.31 104.93 621.9 C104.91 619.5 104.88 617.1 104.86 614.69 C104.83 612.28 104.8 609.87 104.77 607.46 C104.74 605.05 104.71 602.64 104.68 600.23 C104.66 597.81 104.63 595.4 104.6 592.98 C104.58 590.57 104.56 588.15 104.54 585.73 C104.53 583.31 104.52 580.89 104.51 578.47 C104.51 576.05 104.51 573.63 104.52 571.22 C104.53 568.8 104.55 566.38 104.58 563.96 C104.61 561.54 104.65 559.12 104.71 556.7 C104.76 554.28 104.82 551.86 104.9 549.45 C104.98 547.03 105.07 544.62 105.18 542.2 C105.29 539.79 105.41 537.37 105.55 534.96 C105.69 532.55 105.85 530.14 106.03 527.73 C106.21 525.33 106.4 522.92 106.62 520.52 C106.84 518.12 107.08 515.71 107.34 513.32 C107.6 510.92 107.89 508.53 108.2 506.14 C108.51 503.75 108.84 501.36 109.21 498.99 C109.57 496.61 109.96 494.24 110.38 491.88 C110.8 489.52 111.25 487.17 111.73 484.82 C112.21 482.48 112.72 480.15 113.26 477.82 C113.81 475.5 114.39 473.19 115 470.9 C115.62 468.6 116.27 466.31 116.96 464.05 C117.65 461.78 118.37 459.52 119.14 457.28 C119.9 455.05 120.71 452.82 121.56 450.62 C122.41 448.42 123.3 446.23 124.23 444.07 C125.16 441.9 126.14 439.75 127.17 437.63 C128.19 435.5 129.26 433.4 130.37 431.32 C131.49 429.24 132.65 427.19 133.86 425.16 C135.07 423.13 136.32 421.12 137.63 419.15 C138.94 417.17 140.29 415.22 141.7 413.3 C143.1 411.38 144.56 409.49 146.07 407.63 C147.58 405.78 149.13 403.95 150.75 402.16 C152.36 400.37 154.03 398.61 155.75 396.88 C157.47 395.16 159.24 393.47 161.07 391.82 C162.9 390.18 164.78 388.56 166.73 386.99 C168.67 385.42 170.85 383.89 172.73 382.4 C174.6 380.9 177.12 378.73 178 378" fill="none" stroke="#ff0000" stroke-width="1.8" stroke-dasharray="3.2 6.1"/>
<path d="M119.2 686.2 C119.3 685.03 119.61 681.53 119.8 679.21 C119.98 676.89 120.17 674.59 120.31 672.26 C120.46 669.94 120.57 667.6 120.67 665.26 C120.77 662.92 120.85 660.57 120.9 658.21 C120.96 655.85 121 653.48 121.02 651.11 C121.04 648.74 121.04 646.36 121.03 643.97 C121.02 641.59 121 639.2 120.96 636.8 C120.93 634.4 120.88 632 120.83 629.59 C120.78 627.19 120.71 624.77 120.65 622.36 C120.58 619.94 120.51 617.52 120.43 615.1 C120.36 612.68 120.28 610.25 120.21 607.82 C120.13 605.39 120.05 602.96 119.98 600.53 C119.9 598.1 119.83 595.66 119.77 593.23 C119.7 590.79 119.64 588.35 119.59 585.92 C119.54 583.48 119.5 581.04 119.47 578.61 C119.44 576.17 119.42 573.73 119.41 571.3 C119.41 568.86 119.42 566.43 119.44 564 C119.47 561.56 119.51 559.13 119.57 556.71 C119.64 554.28 119.72 551.85 119.82 549.43 C119.93 547.01 120.05 544.59 120.21 542.17 C120.36 539.76 120.54 537.35 120.74 534.94 C120.95 532.54 121.18 530.13 121.45 527.74 C121.71 525.34 122.01 522.95 122.34 520.57 C122.67 518.18 123.03 515.81 123.43 513.43 C123.83 511.06 124.27 508.7 124.74 506.34 C125.22 503.99 125.73 501.64 126.28 499.31 C126.84 496.98 127.43 494.65 128.06 492.35 C128.7 490.04 129.38 487.75 130.1 485.48 C130.82 483.21 131.58 480.95 132.4 478.71 C133.21 476.48 134.06 474.26 134.97 472.08 C135.87 469.89 136.82 467.72 137.82 465.58 C138.82 463.44 139.87 461.32 140.97 459.23 C142.07 457.15 143.22 455.09 144.42 453.07 C145.63 451.04 146.89 449.05 148.2 447.09 C149.51 445.13 150.88 443.21 152.29 441.32 C153.71 439.43 155.18 437.58 156.7 435.75 C158.21 433.93 159.78 432.14 161.38 430.38 C162.99 428.63 164.64 426.9 166.32 425.21 C168.01 423.51 169.74 421.85 171.5 420.21 C173.26 418.58 175.06 416.97 176.89 415.39 C178.71 413.82 180.57 412.27 182.45 410.75 C184.34 409.23 186.25 407.73 188.18 406.27 C190.11 404.8 192.07 403.36 194.04 401.94 C196.01 400.52 198.01 399.13 200.01 397.76 C202.01 396.4 204.04 395.05 206.06 393.73 C208.09 392.41 210.13 391.11 212.18 389.84 C214.22 388.56 216.27 387.31 218.32 386.07 C220.37 384.84 222.54 383.78 224.48 382.43 C226.43 381.09 229.08 378.74 230 378" fill="none" stroke="#ff0000" stroke-width="1.8" stroke-dasharray="3.2 6.1"/>
<path d="M278 378 C276.86 378.49 273.38 379.93 271.16 380.91 C268.94 381.9 266.85 382.88 264.69 383.9 C262.52 384.91 260.35 385.95 258.18 387 C256 388.05 253.82 389.13 251.65 390.22 C249.47 391.32 247.3 392.44 245.13 393.58 C242.96 394.72 240.79 395.88 238.63 397.07 C236.47 398.26 234.31 399.47 232.17 400.71 C230.03 401.94 227.9 403.21 225.78 404.5 C223.67 405.79 221.56 407.1 219.47 408.45 C217.39 409.79 215.32 411.16 213.27 412.57 C211.22 413.97 209.19 415.4 207.18 416.86 C205.18 418.32 203.2 419.82 201.24 421.34 C199.29 422.87 197.36 424.42 195.46 426.01 C193.57 427.6 191.7 429.22 189.87 430.88 C188.03 432.54 186.23 434.23 184.47 435.96 C182.71 437.69 180.98 439.45 179.29 441.25 C177.6 443.05 175.96 444.89 174.35 446.76 C172.75 448.64 171.19 450.55 169.68 452.5 C168.17 454.45 166.7 456.45 165.29 458.47 C163.89 460.49 162.53 462.55 161.24 464.64 C159.96 466.73 158.72 468.86 157.57 471.01 C156.41 473.16 155.32 475.35 154.31 477.55 C153.3 479.76 152.37 482 151.52 484.26 C150.67 486.51 149.9 488.8 149.23 491.1 C148.56 493.4 147.97 495.73 147.48 498.07 C147 500.42 146.61 502.78 146.33 505.16 C146.05 507.53 145.86 509.93 145.8 512.33 C145.74 514.74 145.78 517.16 145.95 519.59 C146.11 522.02 146.39 524.46 146.81 526.91 C147.22 529.36 147.58 532.01 148.43 534.27 C149.28 536.54 151.32 539.46 151.9 540.5" fill="none" stroke="#ff0000" stroke-width="1.8" stroke-dasharray="3.2 6.1"/>
<path d="M151.9 540.5 C152.87 539.76 155.96 537.73 157.72 536.06 C159.49 534.39 160.88 532.32 162.48 530.46 C164.08 528.61 165.69 526.77 167.32 524.94 C168.94 523.12 170.58 521.3 172.23 519.5 C173.88 517.7 175.54 515.91 177.22 514.13 C178.89 512.36 180.58 510.59 182.28 508.85 C183.98 507.1 185.69 505.36 187.41 503.64 C189.13 501.91 190.87 500.2 192.62 498.51 C194.36 496.81 196.12 495.13 197.9 493.46 C199.67 491.79 201.45 490.13 203.24 488.49 C205.04 486.84 206.85 485.21 208.66 483.6 C210.48 481.98 212.31 480.38 214.15 478.79 C215.99 477.2 217.85 475.62 219.71 474.06 C221.57 472.5 223.45 470.95 225.33 469.42 C227.22 467.88 229.12 466.36 231.03 464.85 C232.93 463.35 234.85 461.86 236.78 460.38 C238.71 458.9 240.66 457.43 242.61 455.98 C244.56 454.53 246.52 453.09 248.49 451.67 C250.46 450.24 252.45 448.83 254.44 447.44 C256.43 446.04 258.43 444.65 260.44 443.28 C262.45 441.91 264.48 440.56 266.51 439.21 C268.54 437.87 270.58 436.54 272.62 435.22 C274.67 433.9 276.73 432.6 278.8 431.3 C280.86 430.01 282.94 428.73 285.02 427.47 C287.1 426.2 289.19 424.95 291.29 423.71 C293.39 422.47 295.5 421.24 297.62 420.02 C299.73 418.81 301.85 417.6 303.98 416.41 C306.11 415.22 308.25 414.04 310.4 412.88 C312.54 411.71 314.69 410.56 316.85 409.42 C319.01 408.27 321.18 407.14 323.35 406.03 C325.52 404.91 327.7 403.8 329.89 402.71 C332.07 401.62 334.26 400.53 336.46 399.46 C338.66 398.39 340.86 397.34 343.07 396.29 C345.28 395.24 347.49 394.21 349.71 393.18 C351.93 392.16 354.15 391.15 356.38 390.14 C358.61 389.14 360.85 388.15 363.09 387.18 C365.33 386.2 367.57 385.23 369.82 384.27 C372.07 383.32 374.38 382.48 376.58 381.44 C378.78 380.39 381.93 378.57 383 378" fill="none" stroke="#ff0000" stroke-width="1.8" stroke-dasharray="3.2 6.1"/>
<path d="M160.4 686.2 C160.47 685.05 160.78 681.64 160.82 679.29 C160.86 676.95 160.67 674.53 160.64 672.14 C160.6 669.75 160.59 667.35 160.6 664.95 C160.61 662.56 160.65 660.15 160.71 657.75 C160.78 655.35 160.87 652.94 160.98 650.54 C161.1 648.13 161.24 645.72 161.41 643.32 C161.59 640.92 161.78 638.51 162.01 636.11 C162.24 633.71 162.49 631.31 162.77 628.91 C163.06 626.52 163.37 624.12 163.71 621.74 C164.05 619.35 164.42 616.97 164.83 614.6 C165.23 612.22 165.66 609.85 166.12 607.49 C166.59 605.13 167.08 602.78 167.61 600.44 C168.14 598.1 168.69 595.76 169.29 593.44 C169.88 591.12 170.5 588.81 171.16 586.51 C171.82 584.21 172.51 581.92 173.23 579.65 C173.96 577.38 174.72 575.12 175.51 572.87 C176.3 570.63 177.13 568.4 178 566.19 C178.86 563.98 179.76 561.78 180.7 559.6 C181.64 557.42 182.61 555.26 183.62 553.12 C184.63 550.98 185.68 548.86 186.76 546.76 C187.85 544.66 188.97 542.58 190.13 540.52 C191.29 538.46 192.49 536.42 193.72 534.41 C194.95 532.39 196.21 530.39 197.51 528.42 C198.81 526.44 200.14 524.49 201.51 522.56 C202.87 520.63 204.27 518.71 205.69 516.83 C207.12 514.94 208.57 513.07 210.06 511.22 C211.54 509.38 213.05 507.56 214.59 505.75 C216.13 503.95 217.7 502.17 219.3 500.42 C220.89 498.66 222.51 496.92 224.15 495.21 C225.79 493.5 227.46 491.81 229.15 490.14 C230.84 488.47 232.55 486.83 234.29 485.21 C236.02 483.58 237.78 481.98 239.55 480.41 C241.32 478.83 243.12 477.27 244.93 475.73 C246.75 474.2 248.58 472.68 250.43 471.18 C252.29 469.69 254.16 468.21 256.04 466.76 C257.93 465.3 259.83 463.86 261.75 462.44 C263.67 461.02 265.61 459.62 267.56 458.24 C269.51 456.85 271.47 455.49 273.45 454.14 C275.43 452.79 277.43 451.46 279.43 450.14 C281.44 448.82 283.46 447.52 285.48 446.23 C287.51 444.95 289.56 443.68 291.61 442.42 C293.66 441.16 295.72 439.92 297.8 438.69 C299.87 437.46 301.95 436.25 304.04 435.05 C306.13 433.84 308.23 432.65 310.34 431.48 C312.44 430.3 314.56 429.13 316.68 427.98 C318.8 426.82 320.92 425.68 323.05 424.55 C325.18 423.41 327.32 422.29 329.46 421.17 C331.6 420.06 333.75 418.96 335.9 417.86 C338.04 416.77 340.19 415.68 342.35 414.6 C344.5 413.52 346.66 412.45 348.81 411.39 C350.97 410.32 353.12 409.27 355.28 408.22 C357.44 407.17 359.6 406.12 361.75 405.09 C363.91 404.05 366.06 403.01 368.21 401.99 C370.36 400.96 372.51 399.93 374.66 398.92 C376.81 397.9 378.95 396.88 381.09 395.87 C383.23 394.86 385.36 393.85 387.49 392.84 C389.62 391.83 391.74 390.83 393.86 389.83 C395.97 388.82 398.09 387.82 400.19 386.82 C402.29 385.82 404.39 384.82 406.47 383.82 C408.56 382.82 410.53 381.79 412.7 380.82 C414.87 379.85 418.37 378.47 419.5 378" fill="none" stroke="#ff0000" stroke-width="1.8" stroke-dasharray="3.2 6.1"/>
<path d="M188 686.2 C188.12 685.07 188.61 681.72 188.69 679.4 C188.77 677.08 188.53 674.67 188.48 672.3 C188.44 669.92 188.41 667.54 188.4 665.15 C188.4 662.77 188.42 660.37 188.46 657.98 C188.51 655.59 188.57 653.19 188.66 650.79 C188.76 648.39 188.87 645.99 189.02 643.59 C189.16 641.19 189.33 638.78 189.53 636.39 C189.73 633.99 189.95 631.59 190.21 629.19 C190.46 626.8 190.75 624.41 191.06 622.02 C191.37 619.64 191.72 617.25 192.09 614.88 C192.47 612.51 192.87 610.14 193.31 607.78 C193.75 605.42 194.22 603.07 194.73 600.73 C195.24 598.39 195.77 596.06 196.35 593.74 C196.92 591.42 197.53 589.11 198.18 586.81 C198.82 584.52 199.5 582.24 200.22 579.97 C200.94 577.71 201.7 575.45 202.5 573.22 C203.29 570.99 204.13 568.77 205 566.57 C205.88 564.37 206.79 562.18 207.74 560.02 C208.7 557.86 209.69 555.72 210.73 553.59 C211.76 551.47 212.83 549.37 213.94 547.28 C215.04 545.2 216.19 543.14 217.37 541.1 C218.55 539.05 219.76 537.03 221.01 535.03 C222.26 533.03 223.55 531.05 224.86 529.09 C226.18 527.14 227.53 525.2 228.91 523.29 C230.29 521.37 231.7 519.48 233.14 517.61 C234.58 515.74 236.05 513.9 237.55 512.08 C239.05 510.25 240.58 508.45 242.13 506.68 C243.69 504.9 245.27 503.15 246.88 501.42 C248.48 499.69 250.12 497.99 251.77 496.31 C253.43 494.63 255.11 492.97 256.82 491.34 C258.52 489.71 260.25 488.11 262 486.52 C263.75 484.94 265.52 483.38 267.31 481.84 C269.1 480.3 270.91 478.79 272.75 477.29 C274.58 475.8 276.43 474.32 278.3 472.87 C280.17 471.41 282.06 469.98 283.96 468.57 C285.87 467.15 287.79 465.76 289.73 464.38 C291.67 463.01 293.62 461.65 295.59 460.31 C297.56 458.97 299.55 457.64 301.54 456.34 C303.54 455.03 305.55 453.74 307.58 452.47 C309.6 451.19 311.64 449.93 313.69 448.69 C315.74 447.44 317.8 446.21 319.87 445 C321.94 443.78 324.02 442.58 326.11 441.39 C328.2 440.2 330.3 439.02 332.41 437.86 C334.51 436.69 336.63 435.54 338.75 434.4 C340.87 433.25 343 432.12 345.13 431 C347.27 429.88 349.41 428.77 351.55 427.66 C353.7 426.56 355.85 425.47 358 424.38 C360.15 423.3 362.31 422.22 364.46 421.15 C366.62 420.08 368.78 419.01 370.94 417.96 C373.1 416.9 375.27 415.85 377.43 414.8 C379.59 413.76 381.75 412.72 383.91 411.68 C386.07 410.64 388.23 409.61 390.39 408.58 C392.55 407.55 394.7 406.53 396.85 405.5 C399 404.48 401.15 403.46 403.29 402.44 C405.44 401.42 407.58 400.4 409.71 399.39 C411.84 398.37 413.97 397.35 416.08 396.34 C418.2 395.32 420.32 394.3 422.42 393.28 C424.52 392.26 426.62 391.25 428.71 390.22 C430.79 389.2 432.87 388.18 434.94 387.15 C437 386.12 439.06 385.09 441.1 384.05 C443.15 383.02 445.05 381.94 447.2 380.93 C449.35 379.93 452.87 378.49 454 378" fill="none" stroke="#ff0000" stroke-width="1.8" stroke-dasharray="3.2 6.1"/>
<path d="M205 686.2 C205.06 685.04 205.3 681.58 205.36 679.25 C205.41 676.93 205.32 674.59 205.32 672.24 C205.31 669.9 205.32 667.54 205.35 665.18 C205.38 662.82 205.42 660.44 205.48 658.07 C205.55 655.7 205.62 653.31 205.72 650.93 C205.82 648.55 205.94 646.16 206.08 643.77 C206.22 641.38 206.38 638.99 206.57 636.6 C206.76 634.21 206.97 631.82 207.21 629.44 C207.44 627.05 207.71 624.66 208 622.28 C208.3 619.9 208.62 617.52 208.97 615.15 C209.33 612.78 209.71 610.42 210.13 608.06 C210.55 605.7 211 603.35 211.49 601.01 C211.97 598.67 212.49 596.34 213.05 594.03 C213.62 591.71 214.21 589.4 214.85 587.11 C215.49 584.81 216.16 582.53 216.89 580.27 C217.61 578 218.37 575.75 219.17 573.52 C219.98 571.29 220.83 569.07 221.73 566.87 C222.62 564.68 223.56 562.5 224.53 560.34 C225.51 558.18 226.53 556.04 227.59 553.92 C228.65 551.8 229.75 549.7 230.88 547.62 C232.02 545.54 233.19 543.48 234.4 541.45 C235.61 539.41 236.86 537.4 238.13 535.41 C239.41 533.42 240.73 531.46 242.07 529.52 C243.42 527.57 244.8 525.66 246.2 523.77 C247.61 521.88 249.05 520.01 250.52 518.17 C251.98 516.33 253.48 514.52 255.01 512.73 C256.53 510.95 258.08 509.19 259.66 507.45 C261.23 505.72 262.84 504.01 264.47 502.33 C266.1 500.64 267.75 498.98 269.43 497.35 C271.11 495.71 272.81 494.1 274.53 492.51 C276.26 490.92 278.01 489.35 279.77 487.8 C281.54 486.26 283.34 484.73 285.15 483.23 C286.96 481.73 288.79 480.25 290.64 478.79 C292.49 477.32 294.36 475.88 296.25 474.46 C298.14 473.04 300.05 471.64 301.97 470.25 C303.89 468.86 305.84 467.5 307.79 466.15 C309.75 464.8 311.72 463.47 313.71 462.15 C315.7 460.84 317.7 459.54 319.72 458.26 C321.73 456.97 323.76 455.71 325.8 454.45 C327.84 453.2 329.9 451.97 331.96 450.74 C334.03 449.52 336.11 448.31 338.19 447.11 C340.28 445.91 342.38 444.73 344.48 443.56 C346.59 442.39 348.7 441.23 350.83 440.08 C352.95 438.93 355.08 437.79 357.22 436.67 C359.35 435.54 361.5 434.43 363.64 433.32 C365.79 432.21 367.95 431.11 370.11 430.03 C372.27 428.94 374.43 427.86 376.6 426.79 C378.76 425.71 380.93 424.65 383.1 423.59 C385.27 422.53 387.45 421.48 389.62 420.44 C391.79 419.39 393.97 418.35 396.15 417.32 C398.32 416.29 400.49 415.26 402.67 414.23 C404.84 413.21 407.01 412.19 409.18 411.17 C411.35 410.16 413.52 409.14 415.68 408.13 C417.84 407.12 420 406.11 422.15 405.1 C424.31 404.1 426.46 403.09 428.6 402.09 C430.74 401.08 432.88 400.08 435.01 399.07 C437.13 398.07 439.26 397.07 441.37 396.06 C443.48 395.05 445.59 394.05 447.68 393.04 C449.78 392.03 451.87 391.02 453.94 390.01 C456.02 388.99 458.08 387.98 460.13 386.96 C462.19 385.94 464.23 384.91 466.26 383.88 C468.28 382.86 470.17 381.77 472.3 380.79 C474.42 379.8 477.88 378.46 479 378" fill="none" stroke="#ff0000" stroke-width="1.8" stroke-dasharray="3.2 6.1"/>
<path d="M221.9 686.2 C222.01 685.05 222.38 681.59 222.56 679.27 C222.73 676.95 222.83 674.62 222.96 672.28 C223.08 669.94 223.2 667.58 223.32 665.22 C223.44 662.86 223.56 660.49 223.68 658.11 C223.81 655.73 223.93 653.35 224.07 650.96 C224.21 648.57 224.35 646.17 224.5 643.78 C224.66 641.38 224.83 638.98 225.01 636.58 C225.2 634.19 225.4 631.79 225.63 629.39 C225.85 626.99 226.1 624.6 226.37 622.21 C226.64 619.82 226.94 617.43 227.27 615.06 C227.6 612.68 227.95 610.31 228.35 607.94 C228.75 605.58 229.17 603.23 229.64 600.89 C230.11 598.54 230.62 596.21 231.17 593.89 C231.73 591.58 232.32 589.27 232.96 586.98 C233.61 584.7 234.3 582.42 235.05 580.17 C235.79 577.91 236.59 575.68 237.44 573.46 C238.28 571.24 239.18 569.04 240.11 566.86 C241.05 564.68 242.04 562.52 243.07 560.38 C244.1 558.24 245.17 556.12 246.28 554.02 C247.39 551.92 248.55 549.84 249.74 547.79 C250.93 545.73 252.16 543.7 253.42 541.69 C254.68 539.68 255.99 537.7 257.32 535.74 C258.65 533.77 260.01 531.84 261.41 529.92 C262.8 528.01 264.23 526.12 265.68 524.26 C267.13 522.4 268.61 520.57 270.11 518.76 C271.62 516.95 273.15 515.16 274.71 513.4 C276.26 511.64 277.85 509.9 279.45 508.19 C281.06 506.48 282.69 504.79 284.35 503.12 C286 501.46 287.68 499.81 289.38 498.19 C291.08 496.57 292.8 494.97 294.54 493.39 C296.29 491.82 298.05 490.26 299.84 488.72 C301.62 487.19 303.43 485.67 305.25 484.18 C307.08 482.68 308.92 481.2 310.78 479.75 C312.64 478.29 314.52 476.85 316.42 475.43 C318.31 474.01 320.23 472.61 322.16 471.23 C324.09 469.84 326.03 468.47 328 467.12 C329.96 465.77 331.93 464.44 333.92 463.12 C335.91 461.81 337.92 460.5 339.93 459.22 C341.95 457.93 343.98 456.66 346.02 455.4 C348.06 454.15 350.12 452.9 352.18 451.68 C354.24 450.45 356.32 449.23 358.41 448.03 C360.49 446.83 362.59 445.64 364.69 444.46 C366.79 443.28 368.91 442.12 371.03 440.96 C373.15 439.81 375.28 438.67 377.41 437.53 C379.54 436.4 381.69 435.28 383.83 434.17 C385.98 433.06 388.13 431.96 390.29 430.86 C392.45 429.77 394.61 428.69 396.78 427.61 C398.94 426.53 401.11 425.47 403.29 424.41 C405.46 423.35 407.63 422.29 409.81 421.25 C411.99 420.2 414.17 419.16 416.34 418.13 C418.52 417.1 420.7 416.07 422.88 415.05 C425.06 414.03 427.24 413.01 429.41 412 C431.59 410.98 433.77 409.98 435.94 408.97 C438.11 407.97 440.28 406.97 442.45 405.97 C444.61 404.97 446.78 403.98 448.93 402.98 C451.09 401.99 453.25 401 455.39 400.01 C457.54 399.02 459.68 398.03 461.82 397.05 C463.95 396.06 466.08 395.07 468.21 394.08 C470.33 393.1 472.44 392.11 474.54 391.12 C476.65 390.13 478.74 389.14 480.83 388.15 C482.92 387.16 484.99 386.17 487.06 385.17 C489.12 384.18 491.06 383.13 493.22 382.18 C495.38 381.23 498.87 379.95 500 379.5" fill="none" stroke="#ff0000" stroke-width="1.8" stroke-dasharray="3.2 6.1"/>
<path d="M245.9 686.2 C245.98 685.06 246.33 681.7 246.38 679.38 C246.43 677.05 246.24 674.63 246.21 672.25 C246.18 669.87 246.17 667.49 246.2 665.1 C246.23 662.71 246.28 660.32 246.36 657.93 C246.44 655.54 246.56 653.14 246.7 650.75 C246.84 648.36 247.01 645.96 247.21 643.57 C247.41 641.18 247.64 638.79 247.91 636.4 C248.17 634.01 248.46 631.63 248.79 629.25 C249.11 626.87 249.47 624.5 249.85 622.13 C250.24 619.76 250.66 617.4 251.11 615.04 C251.56 612.69 252.05 610.34 252.57 608.01 C253.08 605.67 253.63 603.34 254.22 601.03 C254.8 598.71 255.42 596.4 256.07 594.11 C256.73 591.82 257.41 589.54 258.14 587.27 C258.86 585.01 259.61 582.75 260.41 580.52 C261.2 578.28 262.02 576.06 262.89 573.86 C263.75 571.66 264.65 569.47 265.59 567.31 C266.52 565.14 267.5 562.99 268.51 560.86 C269.52 558.74 270.56 556.63 271.65 554.55 C272.74 552.46 273.86 550.4 275.02 548.36 C276.18 546.32 277.38 544.3 278.62 542.32 C279.86 540.33 281.14 538.36 282.45 536.42 C283.77 534.48 285.13 532.57 286.52 530.68 C287.91 528.79 289.33 526.93 290.79 525.09 C292.25 523.25 293.75 521.44 295.28 519.65 C296.8 517.86 298.36 516.1 299.95 514.36 C301.54 512.62 303.16 510.9 304.8 509.2 C306.45 507.51 308.12 505.84 309.82 504.19 C311.52 502.54 313.25 500.92 314.99 499.32 C316.74 497.71 318.51 496.13 320.31 494.58 C322.1 493.02 323.92 491.48 325.75 489.97 C327.59 488.45 329.44 486.96 331.31 485.49 C333.18 484.02 335.07 482.57 336.98 481.14 C338.88 479.71 340.81 478.3 342.74 476.91 C344.68 475.51 346.63 474.14 348.6 472.79 C350.56 471.44 352.54 470.1 354.53 468.78 C356.52 467.46 358.53 466.16 360.55 464.88 C362.56 463.59 364.59 462.32 366.63 461.07 C368.67 459.81 370.72 458.58 372.78 457.35 C374.84 456.12 376.91 454.91 378.99 453.72 C381.07 452.52 383.16 451.33 385.25 450.16 C387.35 448.98 389.45 447.82 391.56 446.67 C393.67 445.52 395.78 444.38 397.9 443.25 C400.03 442.12 402.15 441 404.28 439.89 C406.41 438.78 408.55 437.68 410.69 436.58 C412.83 435.49 414.97 434.4 417.11 433.32 C419.26 432.24 421.41 431.16 423.55 430.1 C425.7 429.03 427.85 427.96 430 426.91 C432.15 425.85 434.3 424.8 436.45 423.75 C438.6 422.7 440.74 421.65 442.89 420.61 C445.03 419.56 447.18 418.52 449.32 417.48 C451.46 416.44 453.6 415.4 455.73 414.37 C457.87 413.33 460 412.29 462.12 411.25 C464.24 410.21 466.37 409.18 468.48 408.14 C470.59 407.09 472.7 406.05 474.8 405.01 C476.9 403.96 478.99 402.92 481.07 401.87 C483.16 400.81 485.24 399.76 487.3 398.7 C489.37 397.64 491.36 396.54 493.47 395.51 C495.59 394.47 498.91 393 500 392.5" fill="none" stroke="#ff0000" stroke-width="1.8" stroke-dasharray="3.2 6.1"/>
<path d="M281.1 686.2 C281.16 685.03 281.43 681.58 281.45 679.2 C281.48 676.81 281.27 674.32 281.23 671.88 C281.19 669.44 281.18 667 281.21 664.56 C281.24 662.11 281.3 659.67 281.39 657.22 C281.49 654.78 281.61 652.34 281.78 649.9 C281.94 647.46 282.14 645.02 282.37 642.58 C282.61 640.15 282.87 637.72 283.18 635.29 C283.48 632.87 283.82 630.45 284.19 628.03 C284.57 625.62 284.97 623.21 285.42 620.82 C285.86 618.42 286.34 616.03 286.86 613.65 C287.37 611.27 287.93 608.9 288.51 606.54 C289.1 604.18 289.73 601.84 290.39 599.5 C291.05 597.17 291.75 594.85 292.48 592.54 C293.21 590.23 293.98 587.94 294.79 585.66 C295.6 583.39 296.44 581.12 297.32 578.88 C298.21 576.64 299.13 574.41 300.08 572.21 C301.04 570 302.03 567.81 303.06 565.64 C304.1 563.48 305.17 561.33 306.27 559.2 C307.38 557.08 308.53 554.98 309.71 552.9 C310.9 550.82 312.12 548.76 313.38 546.73 C314.64 544.7 315.94 542.69 317.28 540.71 C318.62 538.73 320 536.78 321.41 534.86 C322.83 532.93 324.29 531.04 325.78 529.17 C327.27 527.3 328.8 525.46 330.37 523.64 C331.93 521.83 333.54 520.04 335.17 518.28 C336.8 516.52 338.47 514.78 340.17 513.07 C341.86 511.36 343.59 509.67 345.35 508 C347.1 506.34 348.89 504.7 350.69 503.08 C352.5 501.47 354.34 499.87 356.19 498.3 C358.05 496.73 359.93 495.18 361.83 493.65 C363.73 492.12 365.66 490.61 367.6 489.12 C369.54 487.63 371.5 486.16 373.47 484.71 C375.45 483.26 377.44 481.83 379.45 480.41 C381.45 479 383.47 477.6 385.5 476.22 C387.53 474.84 389.57 473.48 391.62 472.13 C393.67 470.79 395.74 469.46 397.8 468.14 C399.87 466.82 401.95 465.52 404.03 464.24 C406.11 462.95 408.2 461.68 410.3 460.42 C412.39 459.16 414.5 457.91 416.61 456.68 C418.71 455.44 420.83 454.22 422.94 453.01 C425.06 451.8 427.18 450.6 429.31 449.41 C431.44 448.22 433.57 447.05 435.7 445.88 C437.83 444.71 439.96 443.55 442.1 442.4 C444.24 441.25 446.38 440.11 448.52 438.98 C450.66 437.84 452.8 436.72 454.94 435.6 C457.08 434.48 459.22 433.37 461.36 432.26 C463.5 431.16 465.64 430.06 467.78 428.96 C469.91 427.87 472.05 426.78 474.18 425.7 C476.32 424.61 478.45 423.53 480.58 422.45 C482.7 421.37 484.83 420.3 486.95 419.23 C489.07 418.16 491.12 417.06 493.29 416.02 C495.47 414.98 498.88 413.5 500 413" fill="none" stroke="#ff0000" stroke-width="1.8" stroke-dasharray="3.2 6.1"/>
<path d="M343 686.2 C343.1 685.04 343.48 681.59 343.57 679.22 C343.66 676.84 343.51 674.36 343.53 671.93 C343.54 669.5 343.59 667.07 343.66 664.64 C343.73 662.21 343.84 659.77 343.98 657.35 C344.11 654.92 344.28 652.49 344.48 650.06 C344.68 647.64 344.91 645.22 345.17 642.8 C345.44 640.39 345.74 637.97 346.07 635.57 C346.4 633.17 346.76 630.77 347.16 628.38 C347.56 625.99 348 623.61 348.47 621.24 C348.94 618.87 349.44 616.5 349.98 614.15 C350.52 611.8 351.1 609.47 351.72 607.14 C352.33 604.82 352.98 602.5 353.67 600.21 C354.36 597.91 355.09 595.63 355.86 593.37 C356.62 591.1 357.43 588.85 358.27 586.62 C359.12 584.39 360 582.18 360.92 579.99 C361.85 577.79 362.81 575.62 363.82 573.47 C364.83 571.32 365.87 569.19 366.96 567.08 C368.05 564.98 369.18 562.89 370.35 560.83 C371.52 558.77 372.73 556.73 373.97 554.71 C375.22 552.7 376.5 550.71 377.82 548.74 C379.14 546.77 380.5 544.82 381.9 542.9 C383.29 540.98 384.72 539.08 386.19 537.21 C387.65 535.33 389.15 533.48 390.68 531.66 C392.21 529.84 393.78 528.04 395.38 526.26 C396.97 524.49 398.6 522.74 400.26 521.01 C401.92 519.29 403.62 517.59 405.34 515.92 C407.05 514.24 408.8 512.59 410.58 510.97 C412.35 509.34 414.15 507.74 415.97 506.16 C417.8 504.58 419.65 503.02 421.51 501.49 C423.38 499.95 425.27 498.44 427.18 496.94 C429.09 495.45 431.02 493.98 432.96 492.53 C434.91 491.07 436.87 489.64 438.85 488.23 C440.82 486.81 442.81 485.42 444.81 484.04 C446.81 482.66 448.83 481.3 450.85 479.95 C452.87 478.61 454.91 477.28 456.95 475.97 C458.99 474.66 461.04 473.37 463.09 472.08 C465.14 470.8 467.2 469.54 469.26 468.29 C471.31 467.03 473.38 465.79 475.44 464.57 C477.5 463.34 479.56 462.13 481.62 460.93 C483.68 459.73 485.74 458.54 487.79 457.36 C489.85 456.18 491.9 455.08 493.94 453.86 C495.97 452.63 498.99 450.64 500 450" fill="none" stroke="#ff0000" stroke-width="1.8" stroke-dasharray="3.2 6.1"/>
<path d="M88 576 C88.42 574.87 89.5 571.41 90.54 569.23 C91.58 567.05 92.96 564.98 94.24 562.92 C95.51 560.85 96.83 558.82 98.18 556.83 C99.53 554.84 100.93 552.89 102.36 550.97 C103.79 549.05 105.25 547.17 106.76 545.32 C108.26 543.47 109.8 541.65 111.36 539.87 C112.93 538.09 114.54 536.34 116.17 534.62 C117.8 532.9 119.46 531.21 121.15 529.55 C122.84 527.89 124.57 526.26 126.31 524.65 C128.05 523.05 129.83 521.47 131.62 519.92 C133.42 518.37 135.24 516.84 137.08 515.34 C138.92 513.84 140.78 512.37 142.67 510.91 C144.55 509.46 146.45 508.03 148.37 506.62 C150.29 505.21 152.23 503.82 154.18 502.45 C156.13 501.08 158.1 499.73 160.08 498.4 C162.06 497.07 164.05 495.75 166.06 494.46 C168.06 493.16 170.08 491.88 172.1 490.61 C174.13 489.34 176.16 488.09 178.2 486.85 C180.25 485.62 182.3 484.39 184.36 483.18 C186.42 481.98 188.49 480.78 190.57 479.6 C192.65 478.42 194.73 477.25 196.83 476.1 C198.92 474.94 201.02 473.8 203.13 472.67 C205.24 471.54 207.36 470.43 209.48 469.32 C211.6 468.22 213.73 467.12 215.87 466.04 C218.01 464.96 220.15 463.89 222.31 462.83 C224.46 461.77 226.61 460.73 228.78 459.69 C230.94 458.65 233.11 457.63 235.28 456.61 C237.46 455.59 239.64 454.58 241.82 453.59 C244.01 452.59 246.2 451.6 248.39 450.62 C250.59 449.64 252.79 448.67 254.99 447.71 C257.2 446.75 259.41 445.79 261.62 444.85 C263.83 443.9 266.05 442.96 268.27 442.03 C270.49 441.1 272.72 440.18 274.95 439.26 C277.17 438.34 279.4 437.43 281.64 436.53 C283.87 435.62 286.11 434.73 288.35 433.83 C290.59 432.94 292.83 432.06 295.07 431.18 C297.32 430.3 299.56 429.42 301.81 428.55 C304.06 427.68 306.31 426.81 308.56 425.95 C310.81 425.09 313.06 424.23 315.31 423.38 C317.57 422.52 319.82 421.67 322.08 420.83 C324.33 419.98 326.59 419.14 328.84 418.3 C331.1 417.45 333.35 416.62 335.61 415.78 C337.86 414.94 340.12 414.11 342.37 413.28 C344.63 412.44 346.88 411.61 349.14 410.78 C351.39 409.95 353.64 409.13 355.89 408.3 C358.14 407.47 360.39 406.64 362.64 405.82 C364.89 404.99 367.13 404.16 369.38 403.33 C371.62 402.51 373.86 401.68 376.1 400.85 C378.34 400.02 380.58 399.19 382.81 398.36 C385.05 397.53 387.28 396.7 389.51 395.86 C391.73 395.03 393.96 394.19 396.18 393.35 C398.4 392.51 400.62 391.67 402.83 390.82 C405.04 389.98 407.25 389.13 409.46 388.28 C411.66 387.43 413.86 386.57 416.06 385.71 C418.25 384.86 420.44 383.99 422.63 383.13 C424.81 382.26 426.94 381.36 429.17 380.51 C431.4 379.65 434.86 378.42 436 378" fill="none" stroke="#000" stroke-width="1.55" />
<path d="M88 598 C88.32 596.85 89.25 593.45 89.9 591.11 C90.56 588.77 91.19 586.31 91.93 583.97 C92.68 581.62 93.5 579.32 94.39 577.05 C95.27 574.78 96.23 572.55 97.25 570.36 C98.27 568.17 99.35 566.02 100.5 563.91 C101.64 561.8 102.85 559.73 104.11 557.7 C105.37 555.67 106.69 553.68 108.06 551.73 C109.44 549.77 110.87 547.86 112.34 545.99 C113.82 544.12 115.35 542.29 116.93 540.49 C118.5 538.7 120.13 536.95 121.78 535.22 C123.44 533.5 125.15 531.82 126.88 530.16 C128.62 528.5 130.39 526.88 132.19 525.29 C133.98 523.69 135.82 522.12 137.66 520.58 C139.51 519.04 141.39 517.52 143.28 516.03 C145.17 514.53 147.09 513.06 149.01 511.6 C150.93 510.15 152.87 508.72 154.82 507.3 C156.76 505.88 158.72 504.48 160.69 503.1 C162.65 501.71 164.63 500.35 166.62 499 C168.61 497.65 170.61 496.32 172.62 495.01 C174.62 493.69 176.64 492.39 178.67 491.11 C180.7 489.82 182.74 488.56 184.78 487.3 C186.83 486.05 188.89 484.81 190.95 483.59 C193.01 482.37 195.09 481.16 197.17 479.96 C199.25 478.77 201.34 477.59 203.44 476.42 C205.54 475.26 207.64 474.1 209.76 472.96 C211.87 471.82 213.99 470.7 216.12 469.58 C218.25 468.46 220.39 467.36 222.53 466.27 C224.67 465.18 226.82 464.1 228.98 463.04 C231.13 461.97 233.3 460.91 235.47 459.87 C237.63 458.82 239.81 457.79 241.99 456.76 C244.17 455.74 246.36 454.73 248.55 453.72 C250.74 452.72 252.94 451.72 255.14 450.74 C257.34 449.75 259.55 448.78 261.76 447.81 C263.97 446.84 266.19 445.88 268.41 444.93 C270.63 443.98 272.86 443.04 275.09 442.11 C277.32 441.17 279.55 440.24 281.79 439.32 C284.02 438.4 286.26 437.49 288.51 436.58 C290.75 435.68 292.99 434.78 295.24 433.88 C297.49 432.99 299.74 432.1 302 431.22 C304.25 430.33 306.51 429.46 308.77 428.58 C311.03 427.71 313.29 426.84 315.55 425.98 C317.81 425.12 320.07 424.26 322.34 423.4 C324.6 422.55 326.87 421.69 329.14 420.85 C331.4 420 333.67 419.15 335.94 418.31 C338.21 417.47 340.48 416.63 342.75 415.79 C345.02 414.95 347.29 414.12 349.55 413.28 C351.82 412.45 354.09 411.62 356.36 410.79 C358.63 409.95 360.9 409.12 363.16 408.29 C365.43 407.46 367.69 406.64 369.96 405.81 C372.22 404.98 374.49 404.15 376.75 403.32 C379.01 402.49 381.27 401.66 383.52 400.83 C385.78 400 388.04 399.16 390.29 398.33 C392.54 397.5 394.79 396.66 397.04 395.82 C399.29 394.98 401.53 394.14 403.77 393.3 C406.01 392.46 408.25 391.61 410.48 390.76 C412.72 389.92 414.95 389.06 417.18 388.21 C419.4 387.35 421.62 386.49 423.84 385.63 C426.06 384.76 428.27 383.9 430.48 383.02 C432.69 382.15 434.84 381.23 437.1 380.39 C439.35 379.55 442.85 378.4 444 378" fill="none" stroke="#000" stroke-width="1.55" />
<path d="M88 634 C88.21 632.85 88.85 629.44 89.25 627.13 C89.64 624.81 89.97 622.46 90.37 620.11 C90.77 617.77 91.19 615.41 91.65 613.06 C92.1 610.71 92.58 608.35 93.1 606.01 C93.62 603.66 94.17 601.31 94.76 598.98 C95.35 596.64 95.98 594.31 96.65 592.01 C97.32 589.7 98.03 587.4 98.79 585.13 C99.56 582.85 100.36 580.59 101.22 578.37 C102.08 576.14 102.98 573.93 103.95 571.76 C104.91 569.59 105.93 567.45 107.01 565.34 C108.08 563.24 109.22 561.16 110.41 559.13 C111.6 557.09 112.85 555.09 114.15 553.13 C115.44 551.17 116.8 549.24 118.2 547.35 C119.6 545.46 121.05 543.6 122.55 541.78 C124.05 539.97 125.59 538.19 127.18 536.44 C128.77 534.7 130.41 533 132.09 531.33 C133.76 529.66 135.49 528.04 137.24 526.44 C138.99 524.84 140.79 523.28 142.6 521.75 C144.41 520.21 146.25 518.71 148.11 517.22 C149.96 515.73 151.83 514.27 153.71 512.82 C155.59 511.38 157.49 509.95 159.39 508.53 C161.29 507.12 163.21 505.73 165.14 504.35 C167.06 502.98 169 501.62 170.95 500.27 C172.9 498.93 174.86 497.61 176.83 496.3 C178.79 494.99 180.77 493.69 182.76 492.42 C184.75 491.14 186.75 489.88 188.76 488.63 C190.77 487.38 192.79 486.15 194.82 484.93 C196.85 483.72 198.88 482.51 200.93 481.32 C202.97 480.14 205.03 478.96 207.09 477.8 C209.15 476.64 211.22 475.49 213.3 474.36 C215.38 473.22 217.47 472.1 219.56 470.99 C221.66 469.88 223.76 468.79 225.87 467.7 C227.98 466.62 230.1 465.55 232.22 464.49 C234.34 463.43 236.47 462.38 238.61 461.34 C240.75 460.3 242.89 459.27 245.04 458.25 C247.19 457.24 249.34 456.23 251.5 455.23 C253.66 454.23 255.83 453.25 258 452.27 C260.17 451.29 262.35 450.32 264.53 449.36 C266.71 448.4 268.9 447.45 271.09 446.51 C273.28 445.57 275.48 444.63 277.67 443.7 C279.87 442.78 282.08 441.86 284.28 440.95 C286.49 440.03 288.7 439.13 290.92 438.23 C293.13 437.33 295.35 436.44 297.57 435.55 C299.79 434.67 302.01 433.79 304.24 432.92 C306.46 432.04 308.69 431.17 310.92 430.31 C313.15 429.45 315.38 428.59 317.62 427.74 C319.85 426.88 322.09 426.03 324.32 425.19 C326.56 424.34 328.8 423.5 331.04 422.67 C333.28 421.83 335.52 420.99 337.76 420.16 C340 419.33 342.24 418.5 344.48 417.68 C346.72 416.85 348.96 416.03 351.21 415.21 C353.45 414.39 355.69 413.57 357.93 412.75 C360.17 411.93 362.41 411.11 364.65 410.3 C366.89 409.48 369.13 408.67 371.36 407.85 C373.6 407.04 375.83 406.22 378.07 405.41 C380.3 404.59 382.53 403.78 384.76 402.96 C386.99 402.15 389.22 401.33 391.44 400.51 C393.67 399.69 395.89 398.88 398.11 398.05 C400.33 397.23 402.54 396.41 404.75 395.59 C406.97 394.76 409.18 393.93 411.38 393.1 C413.59 392.27 415.79 391.44 417.99 390.6 C420.19 389.76 422.38 388.92 424.57 388.08 C426.76 387.24 428.94 386.39 431.12 385.54 C433.3 384.68 435.48 383.83 437.64 382.96 C439.81 382.1 441.91 381.19 444.14 380.36 C446.36 379.54 449.86 378.39 451 378" fill="none" stroke="#000" stroke-width="1.55" />
<path d="M94.5 687 C94.56 685.82 94.76 682.27 94.89 679.92 C95.01 677.57 95.12 675.26 95.23 672.9 C95.34 670.55 95.43 668.19 95.53 665.81 C95.63 663.44 95.72 661.05 95.82 658.65 C95.92 656.26 96.01 653.86 96.12 651.45 C96.24 649.04 96.35 646.63 96.48 644.22 C96.61 641.8 96.76 639.38 96.92 636.97 C97.09 634.55 97.26 632.13 97.47 629.72 C97.68 627.31 97.9 624.9 98.16 622.49 C98.42 620.09 98.71 617.69 99.03 615.3 C99.35 612.9 99.71 610.52 100.1 608.15 C100.5 605.78 100.93 603.41 101.41 601.07 C101.89 598.72 102.41 596.38 102.98 594.07 C103.56 591.75 104.18 589.44 104.85 587.16 C105.53 584.88 106.26 582.61 107.05 580.37 C107.84 578.13 108.69 575.9 109.61 573.71 C110.52 571.51 111.49 569.34 112.52 567.2 C113.54 565.05 114.63 562.94 115.78 560.86 C116.92 558.78 118.13 556.73 119.39 554.71 C120.64 552.7 121.96 550.72 123.33 548.79 C124.71 546.85 126.14 544.95 127.62 543.1 C129.1 541.25 130.65 539.44 132.23 537.66 C133.81 535.89 135.44 534.16 137.11 532.46 C138.77 530.76 140.49 529.1 142.22 527.46 C143.95 525.82 145.71 524.22 147.49 522.64 C149.27 521.05 151.07 519.5 152.9 517.97 C154.72 516.43 156.56 514.93 158.42 513.44 C160.29 511.96 162.17 510.5 164.07 509.06 C165.96 507.62 167.88 506.2 169.82 504.8 C171.75 503.41 173.7 502.04 175.67 500.68 C177.63 499.33 179.61 497.99 181.61 496.68 C183.61 495.36 185.62 494.07 187.64 492.79 C189.67 491.51 191.7 490.26 193.75 489.01 C195.8 487.77 197.86 486.55 199.94 485.34 C202.01 484.13 204.09 482.94 206.19 481.76 C208.28 480.58 210.38 479.42 212.49 478.28 C214.61 477.13 216.73 475.99 218.85 474.87 C220.98 473.75 223.12 472.64 225.26 471.55 C227.4 470.45 229.55 469.37 231.7 468.3 C233.86 467.22 236.01 466.16 238.18 465.11 C240.34 464.06 242.51 463.02 244.68 461.98 C246.84 460.95 249.02 459.93 251.19 458.91 C253.37 457.9 255.54 456.89 257.72 455.89 C259.9 454.89 262.08 453.89 264.26 452.91 C266.44 451.92 268.62 450.95 270.81 449.98 C272.99 449.01 275.18 448.04 277.37 447.09 C279.56 446.13 281.75 445.18 283.94 444.24 C286.13 443.29 288.33 442.36 290.52 441.43 C292.72 440.49 294.92 439.57 297.12 438.65 C299.32 437.73 301.52 436.82 303.72 435.91 C305.92 435 308.13 434.1 310.33 433.21 C312.54 432.31 314.75 431.42 316.96 430.53 C319.17 429.64 321.38 428.76 323.59 427.88 C325.81 427.01 328.02 426.13 330.24 425.26 C332.45 424.39 334.67 423.53 336.89 422.67 C339.11 421.81 341.33 420.95 343.55 420.1 C345.77 419.25 348 418.4 350.22 417.55 C352.45 416.7 354.68 415.86 356.91 415.02 C359.13 414.18 361.36 413.34 363.6 412.51 C365.83 411.67 368.06 410.84 370.3 410.01 C372.53 409.18 374.77 408.35 377 407.53 C379.24 406.7 381.48 405.88 383.72 405.05 C385.96 404.23 388.2 403.41 390.45 402.59 C392.69 401.77 394.93 400.96 397.18 400.14 C399.43 399.32 401.67 398.51 403.92 397.69 C406.17 396.88 408.42 396.06 410.67 395.25 C412.92 394.43 415.18 393.62 417.43 392.81 C419.68 391.99 421.94 391.18 424.2 390.36 C426.45 389.55 428.71 388.74 430.97 387.92 C433.23 387.11 435.49 386.29 437.75 385.47 C440.01 384.66 442.27 383.84 444.54 383.02 C446.8 382.2 449.09 381.4 451.33 380.56 C453.58 379.72 456.89 378.43 458 378" fill="none" stroke="#000" stroke-width="1.55" />
<path d="M101 687 C101.08 685.82 101.31 682.28 101.46 679.93 C101.62 677.59 101.78 675.28 101.92 672.93 C102.05 670.58 102.17 668.21 102.28 665.84 C102.39 663.46 102.48 661.06 102.58 658.66 C102.67 656.26 102.76 653.85 102.85 651.44 C102.95 649.02 103.04 646.59 103.15 644.17 C103.26 641.74 103.37 639.31 103.5 636.88 C103.63 634.45 103.77 632.02 103.94 629.59 C104.11 627.16 104.3 624.73 104.51 622.32 C104.73 619.9 104.97 617.48 105.26 615.08 C105.54 612.67 105.85 610.27 106.2 607.89 C106.56 605.5 106.95 603.13 107.4 600.77 C107.84 598.41 108.33 596.07 108.87 593.74 C109.42 591.42 110.01 589.11 110.67 586.82 C111.33 584.54 112.04 582.27 112.82 580.03 C113.61 577.79 114.45 575.56 115.37 573.37 C116.28 571.19 117.26 569.02 118.3 566.89 C119.34 564.76 120.45 562.65 121.61 560.59 C122.78 558.52 124.01 556.48 125.3 554.49 C126.58 552.5 127.93 550.54 129.34 548.62 C130.75 546.71 132.22 544.83 133.74 543 C135.25 541.16 136.83 539.37 138.44 537.61 C140.05 535.85 141.71 534.12 143.4 532.43 C145.08 530.73 146.8 529.07 148.54 527.43 C150.28 525.79 152.05 524.18 153.83 522.59 C155.62 521.01 157.42 519.45 159.25 517.91 C161.08 516.37 162.93 514.86 164.79 513.37 C166.66 511.88 168.54 510.41 170.45 508.97 C172.35 507.52 174.27 506.1 176.21 504.7 C178.15 503.3 180.1 501.92 182.07 500.56 C184.04 499.2 186.03 497.87 188.03 496.55 C190.03 495.23 192.04 493.93 194.07 492.65 C196.1 491.36 198.14 490.1 200.19 488.85 C202.25 487.61 204.31 486.38 206.39 485.17 C208.46 483.95 210.55 482.76 212.65 481.58 C214.74 480.39 216.85 479.23 218.96 478.08 C221.08 476.93 223.2 475.79 225.33 474.66 C227.46 473.54 229.6 472.43 231.74 471.33 C233.89 470.23 236.04 469.15 238.19 468.07 C240.34 467 242.5 465.94 244.67 464.88 C246.83 463.83 249 462.79 251.17 461.75 C253.34 460.72 255.51 459.7 257.68 458.68 C259.86 457.67 262.04 456.66 264.22 455.66 C266.4 454.67 268.58 453.68 270.76 452.7 C272.95 451.72 275.14 450.74 277.33 449.78 C279.52 448.81 281.71 447.86 283.9 446.91 C286.1 445.96 288.3 445.02 290.49 444.08 C292.69 443.15 294.9 442.22 297.1 441.3 C299.3 440.38 301.51 439.46 303.72 438.55 C305.92 437.64 308.13 436.74 310.35 435.84 C312.56 434.95 314.77 434.05 316.99 433.17 C319.2 432.28 321.42 431.4 323.64 430.53 C325.86 429.65 328.08 428.78 330.31 427.91 C332.53 427.05 334.75 426.18 336.98 425.33 C339.21 424.47 341.43 423.62 343.66 422.77 C345.89 421.91 348.13 421.07 350.36 420.23 C352.59 419.38 354.83 418.54 357.06 417.7 C359.3 416.87 361.53 416.03 363.77 415.2 C366.01 414.37 368.25 413.54 370.49 412.71 C372.73 411.89 374.97 411.06 377.22 410.24 C379.46 409.41 381.7 408.59 383.95 407.77 C386.19 406.95 388.44 406.13 390.69 405.31 C392.94 404.49 395.18 403.67 397.43 402.85 C399.68 402.04 401.93 401.22 404.18 400.4 C406.43 399.58 408.69 398.77 410.94 397.95 C413.19 397.13 415.44 396.31 417.7 395.49 C419.95 394.67 422.21 393.85 424.46 393.03 C426.72 392.21 428.97 391.39 431.23 390.56 C433.48 389.74 435.74 388.91 438 388.08 C440.25 387.25 442.51 386.42 444.77 385.59 C447.03 384.76 449.28 383.92 451.54 383.08 C453.8 382.24 456.07 381.41 458.32 380.56 C460.56 379.71 463.89 378.43 465 378" fill="none" stroke="#000" stroke-width="1.55" />
<path d="M109.6 687 C109.68 685.82 109.95 682.26 110.11 679.89 C110.26 677.53 110.42 675.18 110.54 672.81 C110.66 670.44 110.75 668.06 110.83 665.68 C110.91 663.29 110.97 660.9 111.03 658.5 C111.08 656.11 111.12 653.7 111.17 651.3 C111.21 648.89 111.25 646.48 111.3 644.07 C111.35 641.65 111.39 639.24 111.46 636.82 C111.53 634.41 111.6 631.99 111.71 629.57 C111.81 627.16 111.93 624.74 112.08 622.33 C112.23 619.92 112.4 617.5 112.62 615.1 C112.84 612.69 113.08 610.29 113.38 607.9 C113.68 605.51 114.02 603.12 114.42 600.76 C114.82 598.39 115.26 596.04 115.78 593.71 C116.29 591.37 116.87 589.05 117.52 586.76 C118.16 584.47 118.88 582.2 119.66 579.96 C120.44 577.72 121.3 575.5 122.22 573.31 C123.14 571.13 124.13 568.97 125.19 566.85 C126.25 564.73 127.38 562.64 128.57 560.59 C129.77 558.54 131.04 556.53 132.37 554.55 C133.69 552.57 135.09 550.63 136.52 548.73 C137.95 546.82 139.44 544.95 140.96 543.11 C142.48 541.27 144.04 539.47 145.63 537.69 C147.22 535.92 148.84 534.18 150.49 532.46 C152.14 530.75 153.82 529.07 155.53 527.41 C157.24 525.76 158.98 524.13 160.74 522.53 C162.5 520.93 164.29 519.37 166.11 517.82 C167.92 516.28 169.76 514.76 171.63 513.27 C173.49 511.78 175.38 510.31 177.28 508.87 C179.19 507.43 181.12 506.01 183.07 504.62 C185.02 503.22 186.99 501.85 188.97 500.51 C190.96 499.16 192.96 497.83 194.98 496.52 C197 495.22 199.04 493.94 201.09 492.67 C203.14 491.41 205.21 490.16 207.28 488.94 C209.36 487.71 211.45 486.5 213.56 485.31 C215.66 484.12 217.77 482.95 219.89 481.8 C222.02 480.64 224.15 479.5 226.29 478.38 C228.43 477.25 230.58 476.15 232.73 475.05 C234.88 473.96 237.04 472.88 239.2 471.81 C241.37 470.74 243.54 469.69 245.7 468.65 C247.87 467.61 250.05 466.58 252.22 465.56 C254.39 464.54 256.57 463.53 258.75 462.53 C260.92 461.53 263.1 460.55 265.28 459.57 C267.46 458.59 269.64 457.62 271.82 456.66 C274.01 455.7 276.19 454.75 278.38 453.81 C280.56 452.86 282.75 451.93 284.94 451 C287.13 450.07 289.32 449.15 291.51 448.23 C293.7 447.31 295.89 446.41 298.09 445.5 C300.28 444.6 302.48 443.7 304.68 442.8 C306.88 441.91 309.08 441.02 311.28 440.14 C313.48 439.25 315.69 438.37 317.89 437.49 C320.1 436.61 322.31 435.74 324.51 434.86 C326.72 433.99 328.93 433.12 331.15 432.25 C333.36 431.38 335.57 430.52 337.79 429.65 C340.01 428.78 342.22 427.92 344.44 427.05 C346.66 426.18 348.89 425.32 351.11 424.45 C353.33 423.58 355.56 422.72 357.79 421.85 C360.02 420.98 362.24 420.11 364.48 419.23 C366.71 418.36 368.94 417.48 371.18 416.6 C373.41 415.73 375.65 414.85 377.89 413.97 C380.13 413.09 382.37 412.2 384.61 411.32 C386.85 410.44 389.09 409.56 391.33 408.67 C393.58 407.79 395.82 406.91 398.06 406.03 C400.31 405.14 402.55 404.26 404.8 403.38 C407.04 402.5 409.29 401.62 411.53 400.75 C413.78 399.87 416.03 398.99 418.27 398.12 C420.52 397.25 422.76 396.38 425.01 395.51 C427.25 394.64 429.5 393.78 431.74 392.92 C433.98 392.06 436.22 391.2 438.47 390.35 C440.71 389.5 442.95 388.65 445.19 387.81 C447.42 386.96 449.66 386.13 451.9 385.29 C454.13 384.46 456.37 383.63 458.6 382.81 C460.83 381.99 463.06 381.17 465.29 380.37 C467.52 379.57 470.88 378.4 472 378" fill="none" stroke="#000" stroke-width="1.55" />
<path d="M131.6 687 C131.56 685.83 131.44 682.33 131.35 680.01 C131.27 677.68 131.21 675.39 131.11 673.07 C131 670.74 130.86 668.4 130.72 666.06 C130.57 663.71 130.41 661.35 130.24 658.98 C130.07 656.62 129.88 654.24 129.71 651.86 C129.53 649.48 129.34 647.09 129.17 644.7 C129 642.3 128.83 639.9 128.68 637.5 C128.54 635.1 128.39 632.69 128.28 630.28 C128.17 627.88 128.08 625.47 128.02 623.06 C127.96 620.65 127.92 618.23 127.93 615.83 C127.94 613.42 127.98 611.01 128.08 608.62 C128.18 606.22 128.32 603.83 128.52 601.46 C128.73 599.09 128.98 596.73 129.31 594.39 C129.64 592.06 130.03 589.74 130.51 587.45 C130.99 585.16 131.54 582.89 132.18 580.66 C132.82 578.42 133.55 576.22 134.36 574.05 C135.17 571.88 136.06 569.74 137.03 567.64 C138 565.53 139.05 563.46 140.17 561.42 C141.28 559.38 142.47 557.37 143.72 555.4 C144.96 553.42 146.28 551.48 147.65 549.57 C149.01 547.66 150.44 545.78 151.91 543.94 C153.39 542.1 154.91 540.29 156.48 538.51 C158.04 536.73 159.66 534.99 161.3 533.28 C162.95 531.56 164.63 529.89 166.34 528.24 C168.05 526.6 169.8 524.99 171.56 523.41 C173.33 521.83 175.12 520.29 176.94 518.77 C178.75 517.26 180.59 515.78 182.45 514.32 C184.31 512.87 186.2 511.44 188.1 510.04 C190 508.64 191.93 507.27 193.87 505.92 C195.81 504.57 197.77 503.25 199.75 501.95 C201.72 500.65 203.72 499.38 205.73 498.12 C207.74 496.87 209.76 495.64 211.8 494.42 C213.83 493.21 215.88 492.01 217.94 490.83 C220 489.65 222.08 488.49 224.16 487.35 C226.24 486.2 228.33 485.07 230.43 483.96 C232.53 482.84 234.64 481.74 236.75 480.65 C238.86 479.56 240.98 478.48 243.11 477.41 C245.23 476.34 247.36 475.28 249.49 474.22 C251.62 473.17 253.75 472.13 255.89 471.09 C258.02 470.05 260.16 469.02 262.3 468 C264.44 466.98 266.58 465.96 268.72 464.95 C270.87 463.94 273.01 462.94 275.16 461.95 C277.31 460.95 279.46 459.96 281.61 458.98 C283.77 458 285.92 457.02 288.08 456.05 C290.23 455.08 292.39 454.12 294.55 453.16 C296.71 452.2 298.88 451.25 301.04 450.3 C303.21 449.36 305.37 448.41 307.54 447.48 C309.71 446.54 311.88 445.61 314.05 444.69 C316.22 443.76 318.4 442.84 320.57 441.92 C322.75 441.01 324.92 440.1 327.1 439.19 C329.28 438.28 331.46 437.38 333.64 436.48 C335.83 435.58 338.01 434.69 340.2 433.8 C342.38 432.91 344.57 432.02 346.76 431.14 C348.94 430.26 351.13 429.38 353.32 428.5 C355.52 427.63 357.71 426.76 359.9 425.89 C362.1 425.02 364.29 424.15 366.49 423.29 C368.68 422.43 370.88 421.57 373.08 420.71 C375.28 419.85 377.48 419 379.68 418.14 C381.88 417.29 384.09 416.44 386.29 415.59 C388.49 414.74 390.7 413.9 392.91 413.05 C395.11 412.21 397.32 411.37 399.53 410.53 C401.73 409.68 403.94 408.84 406.15 408.01 C408.36 407.17 410.57 406.33 412.79 405.49 C415 404.66 417.21 403.82 419.42 402.99 C421.64 402.15 423.85 401.32 426.07 400.49 C428.28 399.65 430.5 398.82 432.72 397.99 C434.93 397.16 437.15 396.32 439.37 395.49 C441.59 394.66 443.8 393.83 446.02 392.99 C448.24 392.16 450.46 391.33 452.68 390.49 C454.9 389.66 457.12 388.82 459.35 387.99 C461.57 387.15 463.79 386.32 466.01 385.48 C468.23 384.64 470.46 383.8 472.68 382.96 C474.9 382.12 477.13 381.27 479.35 380.44 C481.57 379.61 484.89 378.41 486 378" fill="none" stroke="#000" stroke-width="1.55" />
<path d="M500 379 C498.88 379.43 495.51 380.72 493.27 381.59 C491.03 382.45 488.8 383.33 486.56 384.2 C484.32 385.06 482.07 385.93 479.83 386.79 C477.58 387.65 475.33 388.51 473.08 389.36 C470.83 390.22 468.58 391.07 466.33 391.92 C464.07 392.77 461.82 393.62 459.56 394.46 C457.3 395.31 455.04 396.15 452.78 397 C450.52 397.84 448.25 398.68 445.99 399.52 C443.72 400.36 441.46 401.2 439.19 402.04 C436.92 402.88 434.66 403.71 432.39 404.55 C430.12 405.39 427.85 406.22 425.58 407.06 C423.31 407.9 421.04 408.73 418.77 409.57 C416.49 410.41 414.22 411.24 411.95 412.08 C409.68 412.92 407.41 413.75 405.13 414.59 C402.86 415.43 400.59 416.27 398.32 417.11 C396.05 417.95 393.78 418.79 391.51 419.63 C389.24 420.47 386.97 421.32 384.7 422.16 C382.43 423.01 380.16 423.86 377.89 424.71 C375.63 425.56 373.36 426.41 371.1 427.26 C368.83 428.12 366.57 428.97 364.31 429.83 C362.05 430.69 359.79 431.56 357.53 432.42 C355.27 433.29 353.01 434.16 350.76 435.03 C348.51 435.9 346.25 436.78 344 437.66 C341.75 438.54 339.51 439.42 337.26 440.31 C335.02 441.2 332.77 442.09 330.53 442.98 C328.29 443.88 326.06 444.78 323.82 445.69 C321.59 446.59 319.36 447.5 317.13 448.42 C314.9 449.33 312.68 450.25 310.46 451.18 C308.24 452.11 306.02 453.04 303.81 453.97 C301.59 454.91 299.38 455.86 297.18 456.81 C294.97 457.76 292.77 458.71 290.58 459.68 C288.38 460.65 286.19 461.62 284 462.61 C281.81 463.59 279.63 464.58 277.45 465.59 C275.27 466.59 273.09 467.61 270.93 468.63 C268.76 469.66 266.59 470.7 264.44 471.75 C262.28 472.8 260.13 473.87 257.98 474.95 C255.83 476.03 253.69 477.12 251.56 478.23 C249.42 479.34 247.3 480.46 245.17 481.6 C243.05 482.74 240.94 483.9 238.83 485.08 C236.72 486.25 234.62 487.45 232.52 488.66 C230.42 489.87 228.34 491.1 226.25 492.36 C224.17 493.61 222.1 494.88 220.03 496.17 C217.97 497.47 215.91 498.78 213.88 500.12 C211.84 501.46 209.81 502.82 207.81 504.21 C205.8 505.6 203.81 507.01 201.85 508.45 C199.89 509.89 197.95 511.36 196.04 512.86 C194.13 514.36 192.24 515.88 190.39 517.44 C188.55 518.99 186.72 520.58 184.94 522.2 C183.16 523.82 181.41 525.46 179.71 527.15 C178.01 528.84 176.34 530.55 174.73 532.31 C173.11 534.06 171.52 535.85 170.01 537.68 C168.51 539.52 167.02 541.38 165.68 543.32 C164.34 545.25 163.06 547.23 161.96 549.3 C160.87 551.37 159.87 553.5 159.1 555.73 C158.34 557.97 157.65 560.28 157.35 562.71 C157.05 565.14 157.31 569.04 157.3 570.3" fill="none" stroke="#000" stroke-width="1.55" />
<path d="M157.3 570.3 C158.57 571.28 162.92 576.02 164.9 576.2 C166.88 576.38 167.4 572.93 169.2 571.4 C171 569.87 173.9 568.18 175.7 567 C177.5 565.82 179.28 564.75 180 564.3" fill="none" stroke="#000" stroke-width="1.55" />
<path d="M180 564.5 C180.81 563.63 183.17 560.98 184.86 559.27 C186.55 557.57 188.38 555.93 190.15 554.28 C191.92 552.64 193.71 551 195.5 549.38 C197.3 547.77 199.11 546.16 200.92 544.58 C202.74 542.99 204.57 541.42 206.41 539.86 C208.25 538.3 210.1 536.76 211.95 535.23 C213.81 533.7 215.68 532.18 217.56 530.68 C219.44 529.18 221.33 527.69 223.23 526.22 C225.13 524.74 227.03 523.29 228.95 521.84 C230.87 520.39 232.79 518.96 234.73 517.54 C236.66 516.12 238.61 514.71 240.56 513.32 C242.52 511.92 244.48 510.54 246.45 509.17 C248.42 507.8 250.4 506.45 252.39 505.1 C254.37 503.76 256.37 502.42 258.37 501.1 C260.37 499.78 262.39 498.48 264.41 497.18 C266.42 495.88 268.45 494.6 270.49 493.32 C272.52 492.05 274.56 490.79 276.61 489.53 C278.66 488.28 280.71 487.04 282.78 485.81 C284.84 484.58 286.91 483.36 288.99 482.15 C291.06 480.95 293.15 479.75 295.23 478.56 C297.32 477.37 299.42 476.19 301.52 475.02 C303.62 473.86 305.73 472.7 307.84 471.55 C309.96 470.4 312.08 469.26 314.2 468.13 C316.33 467 318.46 465.88 320.59 464.77 C322.73 463.65 324.87 462.55 327.02 461.46 C329.16 460.36 331.31 459.28 333.47 458.2 C335.62 457.12 337.78 456.05 339.95 454.99 C342.11 453.93 344.28 452.88 346.46 451.83 C348.63 450.79 350.81 449.75 352.99 448.72 C355.17 447.69 357.36 446.67 359.55 445.65 C361.74 444.63 363.93 443.63 366.13 442.63 C368.32 441.62 370.52 440.63 372.72 439.64 C374.93 438.65 377.13 437.67 379.34 436.7 C381.55 435.72 383.76 434.75 385.98 433.79 C388.19 432.83 390.41 431.87 392.63 430.92 C394.85 429.97 397.07 429.02 399.29 428.08 C401.51 427.14 403.74 426.21 405.97 425.28 C408.19 424.35 410.42 423.43 412.65 422.51 C414.88 421.59 417.12 420.67 419.35 419.76 C421.58 418.85 423.82 417.95 426.05 417.04 C428.29 416.14 430.52 415.24 432.76 414.35 C435 413.46 437.24 412.57 439.47 411.68 C441.71 410.8 443.95 409.91 446.19 409.04 C448.43 408.16 450.67 407.28 452.91 406.41 C455.15 405.54 457.39 404.67 459.62 403.8 C461.86 402.93 464.1 402.07 466.34 401.21 C468.58 400.35 470.81 399.49 473.05 398.63 C475.28 397.77 477.52 396.92 479.75 396.07 C481.99 395.21 484.22 394.36 486.45 393.51 C488.68 392.66 490.88 391.8 493.14 390.97 C495.4 390.13 498.86 388.91 500 388.5" fill="none" stroke="#000" stroke-width="1.55" />
<path d="M150.3 687 C150.41 685.86 150.68 682.53 150.94 680.17 C151.19 677.8 151.47 675.25 151.81 672.81 C152.15 670.38 152.54 667.96 152.97 665.56 C153.4 663.16 153.87 660.77 154.39 658.41 C154.91 656.04 155.48 653.69 156.08 651.36 C156.68 649.03 157.33 646.71 158.02 644.42 C158.71 642.12 159.44 639.84 160.21 637.58 C160.98 635.32 161.79 633.08 162.64 630.86 C163.49 628.63 164.37 626.42 165.3 624.24 C166.22 622.05 167.19 619.88 168.18 617.73 C169.18 615.58 170.22 613.45 171.29 611.33 C172.35 609.22 173.46 607.13 174.6 605.05 C175.74 602.98 176.91 600.92 178.11 598.88 C179.32 596.85 180.55 594.83 181.82 592.83 C183.09 590.83 184.39 588.85 185.72 586.89 C187.05 584.94 188.41 583 189.79 581.08 C191.18 579.16 192.6 577.26 194.04 575.38 C195.48 573.5 196.96 571.64 198.45 569.81 C199.95 567.97 201.48 566.15 203.02 564.35 C204.57 562.56 206.15 560.78 207.75 559.02 C209.34 557.27 210.96 555.53 212.61 553.82 C214.25 552.11 215.92 550.41 217.61 548.74 C219.29 547.07 221 545.42 222.73 543.79 C224.46 542.16 226.21 540.55 227.98 538.96 C229.75 537.36 231.53 535.79 233.34 534.24 C235.14 532.68 236.97 531.15 238.81 529.63 C240.65 528.12 242.5 526.62 244.37 525.14 C246.25 523.65 248.13 522.19 250.04 520.74 C251.94 519.3 253.86 517.87 255.79 516.45 C257.72 515.04 259.66 513.64 261.61 512.26 C263.57 510.87 265.54 509.5 267.52 508.15 C269.49 506.8 271.49 505.46 273.48 504.14 C275.48 502.81 277.49 501.5 279.51 500.2 C281.53 498.91 283.56 497.62 285.59 496.35 C287.63 495.08 289.67 493.82 291.72 492.58 C293.77 491.33 295.82 490.1 297.88 488.87 C299.94 487.65 302.01 486.44 304.08 485.24 C306.15 484.04 308.23 482.85 310.31 481.67 C312.4 480.49 314.49 479.32 316.58 478.17 C318.67 477.01 320.77 475.86 322.87 474.73 C324.98 473.59 327.09 472.46 329.2 471.35 C331.31 470.23 333.43 469.12 335.55 468.03 C337.68 466.93 339.8 465.84 341.93 464.76 C344.06 463.68 346.2 462.61 348.34 461.55 C350.48 460.49 352.62 459.44 354.77 458.39 C356.92 457.35 359.07 456.31 361.22 455.28 C363.38 454.25 365.54 453.23 367.7 452.22 C369.86 451.21 372.02 450.2 374.19 449.2 C376.36 448.2 378.53 447.21 380.71 446.23 C382.88 445.25 385.06 444.27 387.24 443.3 C389.42 442.33 391.6 441.36 393.79 440.41 C395.97 439.45 398.16 438.5 400.35 437.55 C402.54 436.61 404.73 435.67 406.93 434.73 C409.12 433.8 411.32 432.87 413.52 431.94 C415.72 431.02 417.92 430.1 420.12 429.19 C422.32 428.27 424.53 427.36 426.73 426.46 C428.94 425.55 431.14 424.65 433.35 423.76 C435.56 422.86 437.77 421.97 439.98 421.08 C442.19 420.19 444.4 419.3 446.62 418.42 C448.83 417.54 451.04 416.66 453.25 415.79 C455.47 414.91 457.68 414.04 459.9 413.17 C462.11 412.3 464.33 411.43 466.54 410.57 C468.76 409.7 470.97 408.84 473.19 407.98 C475.4 407.12 477.62 406.26 479.83 405.4 C482.05 404.54 484.26 403.69 486.48 402.83 C488.69 401.98 490.86 401.08 493.12 400.27 C495.37 399.47 498.85 398.38 500 398" fill="none" stroke="#000" stroke-width="1.55" />
<path d="M182 687 C182.14 685.83 182.57 682.34 182.83 679.99 C183.1 677.64 183.32 675.28 183.58 672.9 C183.85 670.53 184.12 668.14 184.42 665.76 C184.72 663.37 185.03 660.97 185.37 658.57 C185.71 656.17 186.07 653.77 186.46 651.37 C186.84 648.97 187.25 646.57 187.69 644.17 C188.13 641.78 188.6 639.38 189.1 637 C189.6 634.62 190.13 632.24 190.7 629.88 C191.27 627.52 191.87 625.16 192.51 622.83 C193.16 620.49 193.84 618.17 194.56 615.86 C195.29 613.56 196.05 611.28 196.87 609.02 C197.68 606.76 198.54 604.51 199.45 602.3 C200.36 600.09 201.32 597.9 202.32 595.74 C203.33 593.58 204.39 591.45 205.5 589.34 C206.6 587.24 207.76 585.16 208.96 583.12 C210.16 581.07 211.4 579.05 212.69 577.06 C213.98 575.07 215.32 573.11 216.7 571.18 C218.08 569.25 219.5 567.35 220.96 565.48 C222.42 563.61 223.93 561.77 225.47 559.96 C227.01 558.15 228.6 556.37 230.22 554.63 C231.84 552.88 233.5 551.17 235.19 549.48 C236.89 547.8 238.62 546.15 240.38 544.53 C242.14 542.9 243.94 541.31 245.76 539.74 C247.58 538.17 249.43 536.63 251.3 535.11 C253.17 533.59 255.07 532.1 256.98 530.62 C258.89 529.15 260.83 527.69 262.77 526.25 C264.72 524.82 266.68 523.4 268.65 521.99 C270.62 520.59 272.61 519.2 274.6 517.82 C276.58 516.44 278.58 515.08 280.58 513.73 C282.59 512.38 284.6 511.04 286.62 509.71 C288.64 508.39 290.66 507.07 292.69 505.77 C294.72 504.47 296.76 503.18 298.8 501.89 C300.85 500.61 302.9 499.34 304.95 498.08 C307 496.82 309.06 495.57 311.13 494.33 C313.19 493.09 315.26 491.86 317.33 490.64 C319.4 489.41 321.48 488.2 323.55 486.99 C325.63 485.79 327.72 484.59 329.81 483.41 C331.89 482.22 333.99 481.04 336.08 479.87 C338.18 478.7 340.28 477.54 342.38 476.39 C344.48 475.23 346.59 474.09 348.7 472.95 C350.81 471.81 352.93 470.69 355.05 469.57 C357.17 468.45 359.29 467.33 361.42 466.23 C363.55 465.13 365.68 464.03 367.81 462.94 C369.94 461.85 372.08 460.77 374.22 459.7 C376.37 458.63 378.51 457.57 380.66 456.51 C382.81 455.45 384.96 454.4 387.12 453.36 C389.28 452.32 391.44 451.28 393.6 450.26 C395.77 449.23 397.93 448.21 400.1 447.2 C402.27 446.19 404.45 445.18 406.63 444.18 C408.81 443.18 410.99 442.19 413.17 441.21 C415.36 440.22 417.55 439.25 419.74 438.28 C421.93 437.31 424.13 436.34 426.33 435.39 C428.52 434.43 430.73 433.48 432.93 432.54 C435.14 431.59 437.35 430.66 439.56 429.73 C441.77 428.8 443.99 427.87 446.21 426.95 C448.43 426.04 450.65 425.12 452.87 424.22 C455.1 423.31 457.33 422.42 459.56 421.52 C461.79 420.63 464.03 419.74 466.27 418.86 C468.5 417.98 470.75 417.1 472.99 416.24 C475.24 415.37 477.48 414.5 479.73 413.64 C481.98 412.79 484.24 411.93 486.5 411.09 C488.75 410.24 491.03 409.41 493.28 408.56 C495.53 407.72 498.88 406.43 500 406" fill="none" stroke="#000" stroke-width="1.55" />
<path d="M199.2 687 C199.33 685.84 199.73 682.4 199.95 680.06 C200.17 677.72 200.29 675.33 200.49 672.96 C200.7 670.58 200.92 668.2 201.17 665.81 C201.41 663.42 201.68 661.03 201.98 658.64 C202.28 656.24 202.61 653.85 202.96 651.45 C203.32 649.06 203.7 646.67 204.12 644.28 C204.53 641.9 204.98 639.51 205.46 637.14 C205.95 634.77 206.46 632.4 207.02 630.05 C207.57 627.7 208.16 625.36 208.8 623.03 C209.43 620.7 210.1 618.39 210.81 616.1 C211.53 613.8 212.28 611.53 213.08 609.27 C213.88 607.02 214.73 604.78 215.62 602.57 C216.51 600.36 217.45 598.18 218.44 596.02 C219.43 593.86 220.47 591.73 221.55 589.62 C222.63 587.52 223.76 585.44 224.93 583.38 C226.11 581.33 227.33 579.31 228.59 577.31 C229.85 575.32 231.15 573.35 232.5 571.41 C233.84 569.47 235.23 567.56 236.66 565.68 C238.09 563.8 239.55 561.95 241.06 560.13 C242.57 558.31 244.11 556.51 245.7 554.76 C247.28 553 248.9 551.27 250.55 549.57 C252.21 547.87 253.9 546.21 255.63 544.58 C257.35 542.94 259.11 541.34 260.89 539.76 C262.68 538.19 264.5 536.64 266.34 535.11 C268.18 533.59 270.04 532.09 271.93 530.61 C273.82 529.13 275.73 527.68 277.65 526.25 C279.58 524.81 281.52 523.39 283.48 521.99 C285.44 520.59 287.41 519.21 289.39 517.85 C291.37 516.48 293.36 515.12 295.36 513.78 C297.36 512.44 299.36 511.11 301.38 509.79 C303.39 508.47 305.4 507.17 307.43 505.87 C309.45 504.57 311.48 503.29 313.52 502.02 C315.55 500.74 317.59 499.48 319.64 498.23 C321.69 496.97 323.74 495.73 325.79 494.5 C327.85 493.26 329.91 492.04 331.98 490.83 C334.04 489.61 336.11 488.41 338.19 487.22 C340.26 486.02 342.34 484.84 344.42 483.66 C346.51 482.48 348.59 481.32 350.68 480.16 C352.77 479 354.86 477.85 356.96 476.7 C359.06 475.56 361.16 474.42 363.26 473.3 C365.36 472.17 367.47 471.05 369.58 469.94 C371.69 468.83 373.8 467.72 375.91 466.63 C378.03 465.53 380.15 464.44 382.27 463.36 C384.39 462.28 386.51 461.21 388.64 460.14 C390.77 459.07 392.9 458.01 395.04 456.96 C397.17 455.91 399.31 454.86 401.45 453.82 C403.59 452.78 405.74 451.75 407.89 450.73 C410.03 449.7 412.18 448.68 414.34 447.67 C416.49 446.66 418.65 445.65 420.81 444.65 C422.97 443.65 425.14 442.66 427.3 441.67 C429.47 440.68 431.64 439.7 433.82 438.73 C435.99 437.75 438.17 436.78 440.35 435.82 C442.53 434.86 444.72 433.9 446.9 432.95 C449.09 431.99 451.28 431.05 453.48 430.11 C455.67 429.16 457.87 428.23 460.07 427.3 C462.27 426.37 464.48 425.44 466.69 424.52 C468.9 423.6 471.11 422.68 473.32 421.77 C475.54 420.86 477.76 419.96 479.98 419.06 C482.2 418.16 484.43 417.26 486.66 416.37 C488.89 415.48 491.13 414.6 493.36 413.71 C495.58 412.81 498.89 411.45 500 411" fill="none" stroke="#000" stroke-width="1.55" />
<path d="M216.5 687 C216.63 685.83 217.04 682.32 217.28 679.96 C217.52 677.6 217.71 675.22 217.94 672.84 C218.18 670.45 218.42 668.06 218.68 665.66 C218.95 663.26 219.23 660.85 219.53 658.45 C219.84 656.04 220.16 653.63 220.51 651.22 C220.86 648.81 221.23 646.4 221.64 644 C222.04 641.6 222.47 639.2 222.94 636.81 C223.41 634.42 223.9 632.04 224.44 629.67 C224.98 627.3 225.55 624.93 226.16 622.59 C226.77 620.25 227.43 617.92 228.13 615.61 C228.83 613.3 229.57 611 230.36 608.73 C231.15 606.46 231.99 604.21 232.88 601.99 C233.78 599.77 234.72 597.57 235.72 595.4 C236.71 593.23 237.76 591.08 238.86 588.96 C239.95 586.84 241.1 584.75 242.29 582.69 C243.48 580.63 244.72 578.59 246.01 576.59 C247.29 574.58 248.63 572.61 250 570.66 C251.37 568.71 252.79 566.8 254.26 564.91 C255.72 563.02 257.22 561.17 258.76 559.34 C260.3 557.52 261.89 555.73 263.51 553.96 C265.13 552.2 266.79 550.48 268.49 548.78 C270.19 547.08 271.92 545.42 273.69 543.79 C275.45 542.16 277.25 540.55 279.07 538.98 C280.9 537.4 282.75 535.86 284.63 534.33 C286.5 532.81 288.4 531.32 290.32 529.84 C292.23 528.37 294.17 526.91 296.12 525.48 C298.07 524.05 300.03 522.64 302.01 521.25 C303.98 519.85 305.98 518.48 307.98 517.12 C309.98 515.76 312 514.43 314.02 513.1 C316.05 511.78 318.08 510.47 320.13 509.18 C322.17 507.89 324.23 506.61 326.29 505.34 C328.35 504.08 330.42 502.83 332.5 501.59 C334.58 500.35 336.66 499.12 338.75 497.9 C340.84 496.68 342.93 495.48 345.03 494.28 C347.12 493.08 349.23 491.89 351.33 490.71 C353.43 489.53 355.54 488.35 357.65 487.19 C359.76 486.02 361.86 484.86 363.97 483.7 C366.08 482.54 368.19 481.39 370.3 480.25 C372.41 479.1 374.52 477.96 376.64 476.83 C378.75 475.69 380.86 474.56 382.98 473.44 C385.1 472.31 387.21 471.19 389.33 470.08 C391.45 468.96 393.57 467.86 395.69 466.75 C397.82 465.65 399.94 464.55 402.07 463.46 C404.19 462.36 406.32 461.27 408.46 460.19 C410.59 459.1 412.72 458.03 414.86 456.95 C417 455.88 419.14 454.81 421.28 453.74 C423.43 452.68 425.57 451.62 427.72 450.56 C429.87 449.51 432.03 448.46 434.19 447.42 C436.34 446.37 438.5 445.33 440.67 444.3 C442.83 443.27 445 442.24 447.17 441.22 C449.34 440.2 451.52 439.18 453.7 438.17 C455.87 437.16 458.06 436.15 460.24 435.15 C462.43 434.15 464.62 433.16 466.81 432.17 C469.01 431.18 471.2 430.2 473.41 429.23 C475.61 428.25 477.81 427.28 480.02 426.32 C482.23 425.35 484.45 424.4 486.66 423.45 C488.88 422.5 491.11 421.55 493.33 420.61 C495.55 419.67 498.89 418.27 500 417.8" fill="none" stroke="#000" stroke-width="1.55" />
<path d="M239.5 687 C239.58 685.8 239.78 682.2 239.98 679.83 C240.19 677.46 240.45 675.12 240.72 672.77 C240.99 670.42 241.28 668.07 241.6 665.73 C241.91 663.38 242.25 661.04 242.6 658.7 C242.95 656.35 243.32 654.01 243.71 651.66 C244.09 649.32 244.5 646.97 244.91 644.61 C245.32 642.26 245.75 639.9 246.18 637.53 C246.62 635.16 247.06 632.79 247.51 630.41 C247.97 628.03 248.41 625.63 248.9 623.24 C249.38 620.85 249.87 618.46 250.42 616.09 C250.97 613.72 251.54 611.35 252.19 609.03 C252.84 606.7 253.53 604.39 254.31 602.14 C255.09 599.88 255.95 597.66 256.88 595.49 C257.81 593.31 258.83 591.19 259.92 589.1 C261 587.01 262.16 584.96 263.38 582.95 C264.59 580.94 265.88 578.97 267.22 577.04 C268.56 575.1 269.96 573.2 271.4 571.33 C272.84 569.46 274.34 567.63 275.87 565.82 C277.41 564.01 278.99 562.24 280.6 560.49 C282.21 558.74 283.86 557.01 285.53 555.31 C287.2 553.61 288.91 551.94 290.63 550.28 C292.35 548.63 294.09 547 295.85 545.38 C297.6 543.77 299.38 542.17 301.16 540.59 C302.95 539.02 304.75 537.46 306.57 535.92 C308.38 534.38 310.21 532.85 312.06 531.35 C313.9 529.84 315.76 528.36 317.63 526.89 C319.5 525.42 321.39 523.96 323.28 522.52 C325.18 521.09 327.09 519.67 329.01 518.26 C330.93 516.86 332.87 515.47 334.82 514.09 C336.76 512.72 338.72 511.36 340.69 510.02 C342.65 508.68 344.63 507.35 346.62 506.03 C348.61 504.72 350.61 503.42 352.62 502.13 C354.63 500.84 356.65 499.57 358.68 498.31 C360.71 497.05 362.75 495.81 364.79 494.57 C366.84 493.34 368.9 492.12 370.96 490.91 C373.02 489.7 375.09 488.5 377.17 487.31 C379.25 486.13 381.34 484.95 383.43 483.79 C385.53 482.63 387.63 481.48 389.73 480.33 C391.84 479.19 393.95 478.06 396.07 476.94 C398.19 475.82 400.32 474.71 402.45 473.6 C404.58 472.5 406.71 471.41 408.85 470.32 C410.99 469.24 413.14 468.16 415.28 467.1 C417.43 466.03 419.59 464.97 421.74 463.92 C423.9 462.87 426.06 461.82 428.22 460.79 C430.38 459.75 432.55 458.72 434.72 457.7 C436.88 456.68 439.05 455.66 441.23 454.65 C443.4 453.64 445.57 452.64 447.75 451.64 C449.92 450.64 452.1 449.65 454.27 448.66 C456.45 447.67 458.63 446.69 460.8 445.71 C462.98 444.73 465.16 443.76 467.34 442.79 C469.51 441.82 471.69 440.86 473.87 439.89 C476.04 438.93 478.21 437.97 480.39 437.01 C482.56 436.06 484.73 435.1 486.9 434.15 C489.07 433.2 491.21 432.25 493.4 431.31 C495.58 430.36 498.9 428.97 500 428.5" fill="none" stroke="#000" stroke-width="1.55" />
<path d="M273 687 C273.09 685.82 273.32 682.29 273.51 679.94 C273.7 677.59 273.92 675.24 274.15 672.89 C274.38 670.53 274.61 668.17 274.86 665.8 C275.11 663.43 275.38 661.06 275.67 658.69 C275.96 656.31 276.26 653.94 276.59 651.56 C276.92 649.19 277.27 646.81 277.65 644.44 C278.03 642.07 278.43 639.7 278.88 637.34 C279.32 634.98 279.79 632.62 280.3 630.28 C280.82 627.94 281.37 625.6 281.97 623.29 C282.57 620.97 283.22 618.67 283.92 616.39 C284.62 614.11 285.38 611.84 286.19 609.61 C287 607.37 287.87 605.15 288.79 602.96 C289.71 600.77 290.69 598.6 291.71 596.46 C292.73 594.32 293.8 592.2 294.92 590.1 C296.03 588.01 297.2 585.94 298.4 583.9 C299.61 581.86 300.86 579.85 302.16 577.86 C303.45 575.88 304.78 573.92 306.15 571.99 C307.52 570.06 308.93 568.16 310.37 566.29 C311.82 564.42 313.3 562.58 314.81 560.76 C316.32 558.95 317.87 557.16 319.45 555.4 C321.02 553.64 322.63 551.91 324.27 550.2 C325.91 548.49 327.58 546.81 329.27 545.15 C330.97 543.49 332.69 541.86 334.44 540.25 C336.19 538.64 337.96 537.05 339.76 535.48 C341.55 533.92 343.37 532.37 345.21 530.85 C347.05 529.33 348.92 527.83 350.8 526.35 C352.68 524.87 354.58 523.4 356.5 521.96 C358.42 520.52 360.35 519.1 362.3 517.69 C364.25 516.28 366.22 514.89 368.2 513.52 C370.18 512.15 372.17 510.79 374.17 509.45 C376.17 508.11 378.19 506.79 380.21 505.48 C382.24 504.17 384.27 502.87 386.31 501.59 C388.35 500.31 390.4 499.04 392.45 497.78 C394.5 496.52 396.56 495.28 398.61 494.04 C400.67 492.81 402.74 491.59 404.8 490.37 C406.86 489.16 408.93 487.96 410.99 486.76 C413.06 485.57 415.12 484.38 417.18 483.2 C419.24 482.03 421.3 480.85 423.35 479.69 C425.41 478.53 427.47 477.38 429.53 476.23 C431.58 475.09 433.64 473.95 435.71 472.82 C437.77 471.69 439.83 470.58 441.9 469.46 C443.97 468.35 446.05 467.25 448.13 466.16 C450.21 465.07 452.29 463.99 454.39 462.91 C456.48 461.84 458.58 460.77 460.69 459.72 C462.81 458.67 464.93 457.62 467.06 456.59 C469.19 455.55 471.33 454.53 473.49 453.51 C475.64 452.5 477.81 451.49 479.99 450.5 C482.17 449.5 484.37 448.52 486.58 447.54 C488.8 446.57 491.03 445.61 493.27 444.65 C495.5 443.7 498.88 442.28 500 441.8" fill="none" stroke="#000" stroke-width="1.55" />
<path d="M330 687 C330.09 685.82 330.43 682.32 330.57 679.94 C330.71 677.56 330.71 675.13 330.84 672.72 C330.96 670.32 331.13 667.91 331.33 665.51 C331.53 663.11 331.78 660.71 332.06 658.32 C332.34 655.93 332.65 653.53 333.01 651.15 C333.37 648.77 333.76 646.39 334.2 644.02 C334.63 641.65 335.11 639.28 335.62 636.93 C336.13 634.58 336.68 632.24 337.27 629.91 C337.86 627.57 338.49 625.25 339.16 622.95 C339.83 620.64 340.53 618.35 341.28 616.07 C342.03 613.79 342.81 611.53 343.64 609.28 C344.46 607.04 345.32 604.81 346.23 602.6 C347.13 600.39 348.07 598.19 349.06 596.02 C350.04 593.85 351.06 591.7 352.12 589.57 C353.19 587.45 354.29 585.34 355.43 583.26 C356.57 581.18 357.75 579.12 358.97 577.09 C360.19 575.06 361.46 573.05 362.76 571.08 C364.06 569.1 365.4 567.15 366.78 565.23 C368.16 563.31 369.59 561.42 371.05 559.56 C372.51 557.71 374.01 555.88 375.56 554.09 C377.1 552.29 378.68 550.53 380.31 548.81 C381.93 547.08 383.6 545.39 385.3 543.74 C387.01 542.09 388.76 540.47 390.54 538.89 C392.33 537.32 394.16 535.78 396.02 534.27 C397.88 532.77 399.78 531.3 401.7 529.85 C403.62 528.4 405.57 526.99 407.54 525.59 C409.5 524.19 411.5 522.82 413.49 521.47 C415.49 520.11 417.51 518.77 419.53 517.44 C421.55 516.11 423.58 514.79 425.61 513.48 C427.64 512.17 429.66 510.86 431.69 509.57 C433.72 508.27 435.75 506.98 437.78 505.69 C439.81 504.41 441.85 503.13 443.88 501.87 C445.92 500.6 447.95 499.34 449.99 498.1 C452.04 496.85 454.08 495.61 456.12 494.38 C458.17 493.15 460.22 491.93 462.27 490.72 C464.33 489.51 466.38 488.31 468.45 487.13 C470.51 485.94 472.57 484.76 474.64 483.6 C476.72 482.44 478.79 481.28 480.87 480.14 C482.96 479.01 485.04 477.88 487.14 476.76 C489.23 475.65 491.29 474.51 493.43 473.46 C495.58 472.42 498.91 470.99 500 470.5" fill="none" stroke="#000" stroke-width="1.55" />
</g>
<rect x="212.6" y="505.6" width="10.8" height="10.8" fill="#000" stroke="none" stroke-width="0" />
<rect x="236.3" y="420.4" width="9.8" height="9.8" fill="#fff" stroke="#ff0000" stroke-width="1.4" />
<rect x="89" y="379.2" width="408.4" height="306.7" fill="none" stroke="#000" stroke-width="1.7" />
<line x1="140.02" y1="685.9" x2="140.02" y2="672.5" stroke="#000" stroke-width="1.5" />
<line x1="140.02" y1="379.2" x2="140.02" y2="392.6" stroke="#000" stroke-width="1.5" />
<line x1="179.6" y1="685.9" x2="179.6" y2="672.5" stroke="#000" stroke-width="1.5" />
<line x1="179.6" y1="379.2" x2="179.6" y2="392.6" stroke="#000" stroke-width="1.5" />
<line x1="211.94" y1="685.9" x2="211.94" y2="672.5" stroke="#000" stroke-width="1.5" />
<line x1="211.94" y1="379.2" x2="211.94" y2="392.6" stroke="#000" stroke-width="1.5" />
<line x1="239.28" y1="685.9" x2="239.28" y2="672.5" stroke="#000" stroke-width="1.5" />
<line x1="239.28" y1="379.2" x2="239.28" y2="392.6" stroke="#000" stroke-width="1.5" />
<line x1="262.97" y1="685.9" x2="262.97" y2="672.5" stroke="#000" stroke-width="1.5" />
<line x1="262.97" y1="379.2" x2="262.97" y2="392.6" stroke="#000" stroke-width="1.5" />
<line x1="283.86" y1="685.9" x2="283.86" y2="672.5" stroke="#000" stroke-width="1.5" />
<line x1="283.86" y1="379.2" x2="283.86" y2="392.6" stroke="#000" stroke-width="1.5" />
<line x1="302.54" y1="685.9" x2="302.54" y2="672.5" stroke="#000" stroke-width="1.5" />
<line x1="302.54" y1="379.2" x2="302.54" y2="392.6" stroke="#000" stroke-width="1.5" />
<line x1="342.12" y1="685.9" x2="342.12" y2="672.5" stroke="#000" stroke-width="1.5" />
<line x1="342.12" y1="379.2" x2="342.12" y2="392.6" stroke="#000" stroke-width="1.5" />
<line x1="374.46" y1="685.9" x2="374.46" y2="672.5" stroke="#000" stroke-width="1.5" />
<line x1="374.46" y1="379.2" x2="374.46" y2="392.6" stroke="#000" stroke-width="1.5" />
<line x1="401.8" y1="685.9" x2="401.8" y2="672.5" stroke="#000" stroke-width="1.5" />
<line x1="401.8" y1="379.2" x2="401.8" y2="392.6" stroke="#000" stroke-width="1.5" />
<line x1="425.48" y1="685.9" x2="425.48" y2="672.5" stroke="#000" stroke-width="1.5" />
<line x1="425.48" y1="379.2" x2="425.48" y2="392.6" stroke="#000" stroke-width="1.5" />
<line x1="446.38" y1="685.9" x2="446.38" y2="672.5" stroke="#000" stroke-width="1.5" />
<line x1="446.38" y1="379.2" x2="446.38" y2="392.6" stroke="#000" stroke-width="1.5" />
<line x1="465.06" y1="685.9" x2="465.06" y2="672.5" stroke="#000" stroke-width="1.5" />
<line x1="465.06" y1="379.2" x2="465.06" y2="392.6" stroke="#000" stroke-width="1.5" />
<line x1="481.97" y1="685.9" x2="481.97" y2="672.5" stroke="#000" stroke-width="1.5" />
<line x1="481.97" y1="379.2" x2="481.97" y2="392.6" stroke="#000" stroke-width="1.5" />
<line x1="89" y1="685.9" x2="96.8" y2="685.9" stroke="#000" stroke-width="1.5" />
<line x1="497.4" y1="685.9" x2="489.6" y2="685.9" stroke="#000" stroke-width="1.5" />
<line x1="89" y1="675.68" x2="93" y2="675.68" stroke="#000" stroke-width="1.5" />
<line x1="497.4" y1="675.68" x2="493.4" y2="675.68" stroke="#000" stroke-width="1.5" />
<line x1="89" y1="665.45" x2="93" y2="665.45" stroke="#000" stroke-width="1.5" />
<line x1="497.4" y1="665.45" x2="493.4" y2="665.45" stroke="#000" stroke-width="1.5" />
<line x1="89" y1="655.23" x2="93" y2="655.23" stroke="#000" stroke-width="1.5" />
<line x1="497.4" y1="655.23" x2="493.4" y2="655.23" stroke="#000" stroke-width="1.5" />
<line x1="89" y1="645.01" x2="93" y2="645.01" stroke="#000" stroke-width="1.5" />
<line x1="497.4" y1="645.01" x2="493.4" y2="645.01" stroke="#000" stroke-width="1.5" />
<line x1="89" y1="634.78" x2="96.8" y2="634.78" stroke="#000" stroke-width="1.5" />
<line x1="497.4" y1="634.78" x2="489.6" y2="634.78" stroke="#000" stroke-width="1.5" />
<line x1="89" y1="624.56" x2="93" y2="624.56" stroke="#000" stroke-width="1.5" />
<line x1="497.4" y1="624.56" x2="493.4" y2="624.56" stroke="#000" stroke-width="1.5" />
<line x1="89" y1="614.34" x2="93" y2="614.34" stroke="#000" stroke-width="1.5" />
<line x1="497.4" y1="614.34" x2="493.4" y2="614.34" stroke="#000" stroke-width="1.5" />
<line x1="89" y1="604.11" x2="93" y2="604.11" stroke="#000" stroke-width="1.5" />
<line x1="497.4" y1="604.11" x2="493.4" y2="604.11" stroke="#000" stroke-width="1.5" />
<line x1="89" y1="593.89" x2="93" y2="593.89" stroke="#000" stroke-width="1.5" />
<line x1="497.4" y1="593.89" x2="493.4" y2="593.89" stroke="#000" stroke-width="1.5" />
<line x1="89" y1="583.67" x2="96.8" y2="583.67" stroke="#000" stroke-width="1.5" />
<line x1="497.4" y1="583.67" x2="489.6" y2="583.67" stroke="#000" stroke-width="1.5" />
<line x1="89" y1="573.44" x2="93" y2="573.44" stroke="#000" stroke-width="1.5" />
<line x1="497.4" y1="573.44" x2="493.4" y2="573.44" stroke="#000" stroke-width="1.5" />
<line x1="89" y1="563.22" x2="93" y2="563.22" stroke="#000" stroke-width="1.5" />
<line x1="497.4" y1="563.22" x2="493.4" y2="563.22" stroke="#000" stroke-width="1.5" />
<line x1="89" y1="553" x2="93" y2="553" stroke="#000" stroke-width="1.5" />
<line x1="497.4" y1="553" x2="493.4" y2="553" stroke="#000" stroke-width="1.5" />
<line x1="89" y1="542.77" x2="93" y2="542.77" stroke="#000" stroke-width="1.5" />
<line x1="497.4" y1="542.77" x2="493.4" y2="542.77" stroke="#000" stroke-width="1.5" />
<line x1="89" y1="532.55" x2="96.8" y2="532.55" stroke="#000" stroke-width="1.5" />
<line x1="497.4" y1="532.55" x2="489.6" y2="532.55" stroke="#000" stroke-width="1.5" />
<line x1="89" y1="522.33" x2="93" y2="522.33" stroke="#000" stroke-width="1.5" />
<line x1="497.4" y1="522.33" x2="493.4" y2="522.33" stroke="#000" stroke-width="1.5" />
<line x1="89" y1="512.1" x2="93" y2="512.1" stroke="#000" stroke-width="1.5" />
<line x1="497.4" y1="512.1" x2="493.4" y2="512.1" stroke="#000" stroke-width="1.5" />
<line x1="89" y1="501.88" x2="93" y2="501.88" stroke="#000" stroke-width="1.5" />
<line x1="497.4" y1="501.88" x2="493.4" y2="501.88" stroke="#000" stroke-width="1.5" />
<line x1="89" y1="491.66" x2="93" y2="491.66" stroke="#000" stroke-width="1.5" />
<line x1="497.4" y1="491.66" x2="493.4" y2="491.66" stroke="#000" stroke-width="1.5" />
<line x1="89" y1="481.43" x2="96.8" y2="481.43" stroke="#000" stroke-width="1.5" />
<line x1="497.4" y1="481.43" x2="489.6" y2="481.43" stroke="#000" stroke-width="1.5" />
<line x1="89" y1="471.21" x2="93" y2="471.21" stroke="#000" stroke-width="1.5" />
<line x1="497.4" y1="471.21" x2="493.4" y2="471.21" stroke="#000" stroke-width="1.5" />
<line x1="89" y1="460.99" x2="93" y2="460.99" stroke="#000" stroke-width="1.5" />
<line x1="497.4" y1="460.99" x2="493.4" y2="460.99" stroke="#000" stroke-width="1.5" />
<line x1="89" y1="450.76" x2="93" y2="450.76" stroke="#000" stroke-width="1.5" />
<line x1="497.4" y1="450.76" x2="493.4" y2="450.76" stroke="#000" stroke-width="1.5" />
<line x1="89" y1="440.54" x2="93" y2="440.54" stroke="#000" stroke-width="1.5" />
<line x1="497.4" y1="440.54" x2="493.4" y2="440.54" stroke="#000" stroke-width="1.5" />
<line x1="89" y1="430.32" x2="96.8" y2="430.32" stroke="#000" stroke-width="1.5" />
<line x1="497.4" y1="430.32" x2="489.6" y2="430.32" stroke="#000" stroke-width="1.5" />
<line x1="89" y1="420.09" x2="93" y2="420.09" stroke="#000" stroke-width="1.5" />
<line x1="497.4" y1="420.09" x2="493.4" y2="420.09" stroke="#000" stroke-width="1.5" />
<line x1="89" y1="409.87" x2="93" y2="409.87" stroke="#000" stroke-width="1.5" />
<line x1="497.4" y1="409.87" x2="493.4" y2="409.87" stroke="#000" stroke-width="1.5" />
<line x1="89" y1="399.65" x2="93" y2="399.65" stroke="#000" stroke-width="1.5" />
<line x1="497.4" y1="399.65" x2="493.4" y2="399.65" stroke="#000" stroke-width="1.5" />
<line x1="89" y1="389.42" x2="93" y2="389.42" stroke="#000" stroke-width="1.5" />
<line x1="497.4" y1="389.42" x2="493.4" y2="389.42" stroke="#000" stroke-width="1.5" />
<line x1="89" y1="379.2" x2="96.8" y2="379.2" stroke="#000" stroke-width="1.5" />
<line x1="497.4" y1="379.2" x2="489.6" y2="379.2" stroke="#000" stroke-width="1.5" />
<text x="83.4" y="686.4" font-size="18.3" text-anchor="end" fill="#000" >2.0</text>
<text x="83.4" y="640.58" font-size="18.3" text-anchor="end" fill="#000" >2.5</text>
<text x="83.4" y="589.47" font-size="18.3" text-anchor="end" fill="#000" >3.0</text>
<text x="83.4" y="538.35" font-size="18.3" text-anchor="end" fill="#000" >3.5</text>
<text x="83.4" y="487.23" font-size="18.3" text-anchor="end" fill="#000" >4.0</text>
<text x="83.4" y="436.12" font-size="18.3" text-anchor="end" fill="#000" >4.5</text>
<text x="83.4" y="390.3" font-size="18.3" text-anchor="end" fill="#000" >5.0</text>
<text x="89" y="709.6" font-size="18.3" text-anchor="middle" fill="#000" >30</text>
<text x="179.6" y="709.6" font-size="18.3" text-anchor="middle" fill="#000" >50</text>
<text x="302.54" y="709.6" font-size="18.3" text-anchor="middle" fill="#000" >100</text>
<text x="374.46" y="709.6" font-size="18.3" text-anchor="middle" fill="#000" >150</text>
<text x="425.48" y="709.6" font-size="18.3" text-anchor="middle" fill="#000" >200</text>
<text x="465.06" y="709.6" font-size="18.3" text-anchor="middle" fill="#000" >250</text>
<text x="497.4" y="709.6" font-size="18.3" text-anchor="middle" fill="#000" >300</text>
<rect x="369.3" y="621.3" width="116.4" height="46" fill="#fff" stroke="#000" stroke-width="1.5" />
<text x="376.2" y="639.5" font-size="18.3" text-anchor="start" fill="#000" >10 K</text>
<text x="376.2" y="658.4" font-size="18.3" text-anchor="start" fill="#000" >30 K</text>
<line x1="423.2" y1="635.1" x2="468" y2="635.1" stroke="#000" stroke-width="1.5" />
<rect x="443.7" y="630.7" width="8.8" height="8.8" fill="#000" stroke="none" stroke-width="0" />
<line x1="423.2" y1="653.9" x2="464" y2="653.9" stroke="#ff0000" stroke-width="1.8" stroke-dasharray="3.1 6.2"/>
<rect x="443.5" y="650.1" width="8.6" height="8.6" fill="#fff" stroke="#ff0000" stroke-width="1.4" />
<text x="293" y="731" font-size="18.900000000000002" text-anchor="middle" fill="#000" >T<tspan font-size="10.8" dy="4">bg</tspan><tspan dy="-4"> (K)</tspan></text>
<text x="15.3" y="532.8" font-size="18.3" text-anchor="middle" fill="#000" transform="rotate(-90 15.3 532.8)">non−LTE radex</text>
<text x="49.7" y="531.8" font-size="18.3" text-anchor="middle" fill="#000" transform="rotate(-90 49.7 531.8)">log<tspan font-size="10.8" dy="4">10</tspan><tspan dy="-4"> n</tspan><tspan font-size="7.800000000000001" dy="4">H</tspan><tspan font-size="10.8">2</tspan><tspan dy="-4"> / cm</tspan><tspan font-size="10.8" dy="-7">3</tspan></text>
</g>
<g id="panels">
<path d="M635.38 378.13 L724.08 346.15 L812.78 353.47" fill="none" stroke="#8c8c8c" stroke-width="1.5" />
<path d="M812.78 353.47 L901.48 374.52" fill="none" stroke="#8c8c8c" stroke-width="1.5" stroke-dasharray="13.4 13.3"/>
<path d="M635.38 406.51 L724.08 389.53 L812.78 388.94" fill="none" stroke="#6e6e6e" stroke-width="1.5" />
<path d="M812.78 388.94 L901.48 393.94" fill="none" stroke="#6e6e6e" stroke-width="1.5" stroke-dasharray="13.4 13.3"/>
<path d="M635.38 422.32 L724.08 412.09 L812.78 409.41" fill="none" stroke="#484848" stroke-width="1.5" />
<path d="M812.78 409.41 L901.48 409.41" fill="none" stroke="#484848" stroke-width="1.5" stroke-dasharray="13.4 13.3"/>
<line x1="635.38" y1="433.84" x2="635.38" y2="422.21" stroke="#000" stroke-width="1.4" />
<line x1="632.38" y1="433.84" x2="638.38" y2="433.84" stroke="#000" stroke-width="1.4" />
<line x1="632.38" y1="422.21" x2="638.38" y2="422.21" stroke="#000" stroke-width="1.4" />
<rect x="631.88" y="424.52" width="7" height="7" fill="#000" stroke="none" stroke-width="0" />
<line x1="724.08" y1="418.02" x2="724.08" y2="402.9" stroke="#000" stroke-width="1.4" />
<line x1="721.08" y1="418.02" x2="727.08" y2="418.02" stroke="#000" stroke-width="1.4" />
<line x1="721.08" y1="402.9" x2="727.08" y2="402.9" stroke="#000" stroke-width="1.4" />
<rect x="720.58" y="406.96" width="7" height="7" fill="#000" stroke="none" stroke-width="0" />
<line x1="812.78" y1="441.86" x2="812.78" y2="389.76" stroke="#000" stroke-width="1.4" />
<line x1="809.78" y1="441.86" x2="815.78" y2="441.86" stroke="#000" stroke-width="1.4" />
<line x1="809.78" y1="389.76" x2="815.78" y2="389.76" stroke="#000" stroke-width="1.4" />
<rect x="809.28" y="412.31" width="7" height="7" fill="#000" stroke="none" stroke-width="0" />
<rect x="898.03" y="396.54" width="6.9" height="6.9" fill="#fff" stroke="#000" stroke-width="1.35" />
<line x1="635.38" y1="455.7" x2="635.38" y2="451.3" stroke="#000" stroke-width="1.4" />
<line x1="635.38" y1="341" x2="635.38" y2="345.4" stroke="#000" stroke-width="1.4" />
<line x1="724.08" y1="455.7" x2="724.08" y2="451.3" stroke="#000" stroke-width="1.4" />
<line x1="724.08" y1="341" x2="724.08" y2="345.4" stroke="#000" stroke-width="1.4" />
<line x1="812.78" y1="455.7" x2="812.78" y2="451.3" stroke="#000" stroke-width="1.4" />
<line x1="812.78" y1="341" x2="812.78" y2="345.4" stroke="#000" stroke-width="1.4" />
<line x1="901.48" y1="455.7" x2="901.48" y2="451.3" stroke="#000" stroke-width="1.4" />
<line x1="901.48" y1="341" x2="901.48" y2="345.4" stroke="#000" stroke-width="1.4" />
<line x1="599.8" y1="455.7" x2="606.2" y2="455.7" stroke="#000" stroke-width="1.4" />
<line x1="918.9" y1="455.7" x2="912.5" y2="455.7" stroke="#000" stroke-width="1.4" />
<line x1="599.8" y1="444.07" x2="603" y2="444.07" stroke="#000" stroke-width="1.4" />
<line x1="918.9" y1="444.07" x2="915.7" y2="444.07" stroke="#000" stroke-width="1.4" />
<line x1="599.8" y1="432.44" x2="603" y2="432.44" stroke="#000" stroke-width="1.4" />
<line x1="918.9" y1="432.44" x2="915.7" y2="432.44" stroke="#000" stroke-width="1.4" />
<line x1="599.8" y1="420.81" x2="603" y2="420.81" stroke="#000" stroke-width="1.4" />
<line x1="918.9" y1="420.81" x2="915.7" y2="420.81" stroke="#000" stroke-width="1.4" />
<line x1="599.8" y1="409.18" x2="606.2" y2="409.18" stroke="#000" stroke-width="1.4" />
<line x1="918.9" y1="409.18" x2="912.5" y2="409.18" stroke="#000" stroke-width="1.4" />
<line x1="599.8" y1="397.55" x2="603" y2="397.55" stroke="#000" stroke-width="1.4" />
<line x1="918.9" y1="397.55" x2="915.7" y2="397.55" stroke="#000" stroke-width="1.4" />
<line x1="599.8" y1="385.92" x2="603" y2="385.92" stroke="#000" stroke-width="1.4" />
<line x1="918.9" y1="385.92" x2="915.7" y2="385.92" stroke="#000" stroke-width="1.4" />
<line x1="599.8" y1="374.29" x2="603" y2="374.29" stroke="#000" stroke-width="1.4" />
<line x1="918.9" y1="374.29" x2="915.7" y2="374.29" stroke="#000" stroke-width="1.4" />
<line x1="599.8" y1="362.66" x2="606.2" y2="362.66" stroke="#000" stroke-width="1.4" />
<line x1="918.9" y1="362.66" x2="912.5" y2="362.66" stroke="#000" stroke-width="1.4" />
<line x1="599.8" y1="351.03" x2="603" y2="351.03" stroke="#000" stroke-width="1.4" />
<line x1="918.9" y1="351.03" x2="915.7" y2="351.03" stroke="#000" stroke-width="1.4" />
<text x="622.3" y="363.5" font-size="15.5" text-anchor="start" fill="#000" >n<tspan font-size="5.8" dy="3.2">H</tspan><tspan font-size="9.6">2</tspan><tspan dy="-3.2"> = 10</tspan><tspan font-size="9.4" dy="-5.5">4</tspan><tspan dy="5.5"> cm</tspan><tspan font-size="9.4" dy="-5.5">−3</tspan></text>
<text x="593.8" y="457.4" font-size="18.3" text-anchor="end" fill="#000" >0.000</text>
<text x="593.8" y="415.48" font-size="18.3" text-anchor="end" fill="#000" >0.004</text>
<text x="593.8" y="368.96" font-size="18.3" text-anchor="end" fill="#000" >0.008</text>
<path d="M954.48 431.04 L1043.18 389.76 L1131.88 363.94" fill="none" stroke="#8c8c8c" stroke-width="1.5" />
<path d="M1131.88 363.94 L1220.58 367.08" fill="none" stroke="#8c8c8c" stroke-width="1.5" stroke-dasharray="13.4 13.3"/>
<path d="M954.48 434.18 L1043.18 404.41 L1131.88 387.66" fill="none" stroke="#6e6e6e" stroke-width="1.5" />
<path d="M1131.88 387.66 L1220.58 387.08" fill="none" stroke="#6e6e6e" stroke-width="1.5" stroke-dasharray="13.4 13.3"/>
<path d="M954.48 436.74 L1043.18 415.23 L1131.88 403.13" fill="none" stroke="#484848" stroke-width="1.5" />
<path d="M1131.88 403.13 L1220.58 401.27" fill="none" stroke="#484848" stroke-width="1.5" stroke-dasharray="13.4 13.3"/>
<line x1="954.48" y1="433.84" x2="954.48" y2="422.21" stroke="#000" stroke-width="1.4" />
<line x1="951.48" y1="433.84" x2="957.48" y2="433.84" stroke="#000" stroke-width="1.4" />
<line x1="951.48" y1="422.21" x2="957.48" y2="422.21" stroke="#000" stroke-width="1.4" />
<rect x="950.98" y="424.52" width="7" height="7" fill="#000" stroke="none" stroke-width="0" />
<line x1="1043.18" y1="418.02" x2="1043.18" y2="402.9" stroke="#000" stroke-width="1.4" />
<line x1="1040.18" y1="418.02" x2="1046.18" y2="418.02" stroke="#000" stroke-width="1.4" />
<line x1="1040.18" y1="402.9" x2="1046.18" y2="402.9" stroke="#000" stroke-width="1.4" />
<rect x="1039.68" y="406.96" width="7" height="7" fill="#000" stroke="none" stroke-width="0" />
<line x1="1131.88" y1="441.86" x2="1131.88" y2="389.76" stroke="#000" stroke-width="1.4" />
<line x1="1128.88" y1="441.86" x2="1134.88" y2="441.86" stroke="#000" stroke-width="1.4" />
<line x1="1128.88" y1="389.76" x2="1134.88" y2="389.76" stroke="#000" stroke-width="1.4" />
<rect x="1128.38" y="412.31" width="7" height="7" fill="#000" stroke="none" stroke-width="0" />
<rect x="1217.13" y="392.36" width="6.9" height="6.9" fill="#fff" stroke="#000" stroke-width="1.35" />
<line x1="954.48" y1="455.7" x2="954.48" y2="451.3" stroke="#000" stroke-width="1.4" />
<line x1="954.48" y1="341" x2="954.48" y2="345.4" stroke="#000" stroke-width="1.4" />
<line x1="1043.18" y1="455.7" x2="1043.18" y2="451.3" stroke="#000" stroke-width="1.4" />
<line x1="1043.18" y1="341" x2="1043.18" y2="345.4" stroke="#000" stroke-width="1.4" />
<line x1="1131.88" y1="455.7" x2="1131.88" y2="451.3" stroke="#000" stroke-width="1.4" />
<line x1="1131.88" y1="341" x2="1131.88" y2="345.4" stroke="#000" stroke-width="1.4" />
<line x1="1220.58" y1="455.7" x2="1220.58" y2="451.3" stroke="#000" stroke-width="1.4" />
<line x1="1220.58" y1="341" x2="1220.58" y2="345.4" stroke="#000" stroke-width="1.4" />
<line x1="918.9" y1="455.7" x2="925.3" y2="455.7" stroke="#000" stroke-width="1.4" />
<line x1="1238.2" y1="455.7" x2="1231.8" y2="455.7" stroke="#000" stroke-width="1.4" />
<line x1="918.9" y1="444.07" x2="922.1" y2="444.07" stroke="#000" stroke-width="1.4" />
<line x1="1238.2" y1="444.07" x2="1235" y2="444.07" stroke="#000" stroke-width="1.4" />
<line x1="918.9" y1="432.44" x2="922.1" y2="432.44" stroke="#000" stroke-width="1.4" />
<line x1="1238.2" y1="432.44" x2="1235" y2="432.44" stroke="#000" stroke-width="1.4" />
<line x1="918.9" y1="420.81" x2="922.1" y2="420.81" stroke="#000" stroke-width="1.4" />
<line x1="1238.2" y1="420.81" x2="1235" y2="420.81" stroke="#000" stroke-width="1.4" />
<line x1="918.9" y1="409.18" x2="925.3" y2="409.18" stroke="#000" stroke-width="1.4" />
<line x1="1238.2" y1="409.18" x2="1231.8" y2="409.18" stroke="#000" stroke-width="1.4" />
<line x1="918.9" y1="397.55" x2="922.1" y2="397.55" stroke="#000" stroke-width="1.4" />
<line x1="1238.2" y1="397.55" x2="1235" y2="397.55" stroke="#000" stroke-width="1.4" />
<line x1="918.9" y1="385.92" x2="922.1" y2="385.92" stroke="#000" stroke-width="1.4" />
<line x1="1238.2" y1="385.92" x2="1235" y2="385.92" stroke="#000" stroke-width="1.4" />
<line x1="918.9" y1="374.29" x2="922.1" y2="374.29" stroke="#000" stroke-width="1.4" />
<line x1="1238.2" y1="374.29" x2="1235" y2="374.29" stroke="#000" stroke-width="1.4" />
<line x1="918.9" y1="362.66" x2="925.3" y2="362.66" stroke="#000" stroke-width="1.4" />
<line x1="1238.2" y1="362.66" x2="1231.8" y2="362.66" stroke="#000" stroke-width="1.4" />
<line x1="918.9" y1="351.03" x2="922.1" y2="351.03" stroke="#000" stroke-width="1.4" />
<line x1="1238.2" y1="351.03" x2="1235" y2="351.03" stroke="#000" stroke-width="1.4" />
<text x="941.4" y="363.5" font-size="15.5" text-anchor="start" fill="#000" >n<tspan font-size="5.8" dy="3.2">H</tspan><tspan font-size="9.6">2</tspan><tspan dy="-3.2"> = 10</tspan><tspan font-size="9.4" dy="-5.5">4.5</tspan><tspan dy="5.5"> cm</tspan><tspan font-size="9.4" dy="-5.5">−3</tspan></text>
<path d="M635.38 545.7 L724.08 515.81 L812.78 492.08" fill="none" stroke="#8c8c8c" stroke-width="1.5" />
<path d="M812.78 492.08 L901.48 488.71" fill="none" stroke="#8c8c8c" stroke-width="1.5" stroke-dasharray="13.4 13.3"/>
<path d="M635.38 558.37 L724.08 541.28 L812.78 526.85" fill="none" stroke="#6e6e6e" stroke-width="1.5" />
<path d="M812.78 526.85 L901.48 516.27" fill="none" stroke="#6e6e6e" stroke-width="1.5" stroke-dasharray="13.4 13.3"/>
<path d="M635.38 563.02 L724.08 552.56 L812.78 542.56" fill="none" stroke="#484848" stroke-width="1.5" />
<path d="M812.78 542.56 L901.48 533.37" fill="none" stroke="#484848" stroke-width="1.5" stroke-dasharray="13.4 13.3"/>
<line x1="635.38" y1="548.84" x2="635.38" y2="537.21" stroke="#000" stroke-width="1.4" />
<line x1="632.38" y1="548.84" x2="638.38" y2="548.84" stroke="#000" stroke-width="1.4" />
<line x1="632.38" y1="537.21" x2="638.38" y2="537.21" stroke="#000" stroke-width="1.4" />
<rect x="631.88" y="539.52" width="7" height="7" fill="#000" stroke="none" stroke-width="0" />
<line x1="724.08" y1="533.02" x2="724.08" y2="517.9" stroke="#000" stroke-width="1.4" />
<line x1="721.08" y1="533.02" x2="727.08" y2="533.02" stroke="#000" stroke-width="1.4" />
<line x1="721.08" y1="517.9" x2="727.08" y2="517.9" stroke="#000" stroke-width="1.4" />
<rect x="720.58" y="521.96" width="7" height="7" fill="#000" stroke="none" stroke-width="0" />
<line x1="812.78" y1="556.86" x2="812.78" y2="504.76" stroke="#000" stroke-width="1.4" />
<line x1="809.78" y1="556.86" x2="815.78" y2="556.86" stroke="#000" stroke-width="1.4" />
<line x1="809.78" y1="504.76" x2="815.78" y2="504.76" stroke="#000" stroke-width="1.4" />
<rect x="809.28" y="527.31" width="7" height="7" fill="#000" stroke="none" stroke-width="0" />
<rect x="898.03" y="511.54" width="6.9" height="6.9" fill="#fff" stroke="#000" stroke-width="1.35" />
<line x1="635.38" y1="570.7" x2="635.38" y2="566.3" stroke="#000" stroke-width="1.4" />
<line x1="635.38" y1="455.7" x2="635.38" y2="460.1" stroke="#000" stroke-width="1.4" />
<line x1="724.08" y1="570.7" x2="724.08" y2="566.3" stroke="#000" stroke-width="1.4" />
<line x1="724.08" y1="455.7" x2="724.08" y2="460.1" stroke="#000" stroke-width="1.4" />
<line x1="812.78" y1="570.7" x2="812.78" y2="566.3" stroke="#000" stroke-width="1.4" />
<line x1="812.78" y1="455.7" x2="812.78" y2="460.1" stroke="#000" stroke-width="1.4" />
<line x1="901.48" y1="570.7" x2="901.48" y2="566.3" stroke="#000" stroke-width="1.4" />
<line x1="901.48" y1="455.7" x2="901.48" y2="460.1" stroke="#000" stroke-width="1.4" />
<line x1="599.8" y1="570.7" x2="606.2" y2="570.7" stroke="#000" stroke-width="1.4" />
<line x1="918.9" y1="570.7" x2="912.5" y2="570.7" stroke="#000" stroke-width="1.4" />
<line x1="599.8" y1="559.07" x2="603" y2="559.07" stroke="#000" stroke-width="1.4" />
<line x1="918.9" y1="559.07" x2="915.7" y2="559.07" stroke="#000" stroke-width="1.4" />
<line x1="599.8" y1="547.44" x2="603" y2="547.44" stroke="#000" stroke-width="1.4" />
<line x1="918.9" y1="547.44" x2="915.7" y2="547.44" stroke="#000" stroke-width="1.4" />
<line x1="599.8" y1="535.81" x2="603" y2="535.81" stroke="#000" stroke-width="1.4" />
<line x1="918.9" y1="535.81" x2="915.7" y2="535.81" stroke="#000" stroke-width="1.4" />
<line x1="599.8" y1="524.18" x2="606.2" y2="524.18" stroke="#000" stroke-width="1.4" />
<line x1="918.9" y1="524.18" x2="912.5" y2="524.18" stroke="#000" stroke-width="1.4" />
<line x1="599.8" y1="512.55" x2="603" y2="512.55" stroke="#000" stroke-width="1.4" />
<line x1="918.9" y1="512.55" x2="915.7" y2="512.55" stroke="#000" stroke-width="1.4" />
<line x1="599.8" y1="500.92" x2="603" y2="500.92" stroke="#000" stroke-width="1.4" />
<line x1="918.9" y1="500.92" x2="915.7" y2="500.92" stroke="#000" stroke-width="1.4" />
<line x1="599.8" y1="489.29" x2="603" y2="489.29" stroke="#000" stroke-width="1.4" />
<line x1="918.9" y1="489.29" x2="915.7" y2="489.29" stroke="#000" stroke-width="1.4" />
<line x1="599.8" y1="477.66" x2="606.2" y2="477.66" stroke="#000" stroke-width="1.4" />
<line x1="918.9" y1="477.66" x2="912.5" y2="477.66" stroke="#000" stroke-width="1.4" />
<line x1="599.8" y1="466.03" x2="603" y2="466.03" stroke="#000" stroke-width="1.4" />
<line x1="918.9" y1="466.03" x2="915.7" y2="466.03" stroke="#000" stroke-width="1.4" />
<text x="622.3" y="478.2" font-size="15.5" text-anchor="start" fill="#000" >n<tspan font-size="5.8" dy="3.2">H</tspan><tspan font-size="9.6">2</tspan><tspan dy="-3.2"> = 10</tspan><tspan font-size="9.4" dy="-5.5">3</tspan><tspan dy="5.5"> cm</tspan><tspan font-size="9.4" dy="-5.5">−3</tspan></text>
<text x="593.8" y="572.4" font-size="18.3" text-anchor="end" fill="#000" >0.000</text>
<text x="593.8" y="530.48" font-size="18.3" text-anchor="end" fill="#000" >0.004</text>
<text x="593.8" y="483.96" font-size="18.3" text-anchor="end" fill="#000" >0.008</text>
<path d="M954.48 551.28 L1043.18 518.37 L1131.88 492.66" fill="none" stroke="#8c8c8c" stroke-width="1.5" />
<path d="M1131.88 492.66 L1220.58 488.13" fill="none" stroke="#8c8c8c" stroke-width="1.5" stroke-dasharray="13.4 13.3"/>
<path d="M954.48 558.37 L1043.18 541.28 L1131.88 525.46" fill="none" stroke="#6e6e6e" stroke-width="1.5" />
<path d="M1131.88 525.46 L1220.58 514.99" fill="none" stroke="#6e6e6e" stroke-width="1.5" stroke-dasharray="13.4 13.3"/>
<path d="M954.48 562.33 L1043.18 551.74 L1131.88 540.69" fill="none" stroke="#484848" stroke-width="1.5" />
<path d="M1131.88 540.69 L1220.58 532.09" fill="none" stroke="#484848" stroke-width="1.5" stroke-dasharray="13.4 13.3"/>
<line x1="954.48" y1="548.84" x2="954.48" y2="537.21" stroke="#000" stroke-width="1.4" />
<line x1="951.48" y1="548.84" x2="957.48" y2="548.84" stroke="#000" stroke-width="1.4" />
<line x1="951.48" y1="537.21" x2="957.48" y2="537.21" stroke="#000" stroke-width="1.4" />
<rect x="950.98" y="539.52" width="7" height="7" fill="#000" stroke="none" stroke-width="0" />
<line x1="1043.18" y1="533.02" x2="1043.18" y2="517.9" stroke="#000" stroke-width="1.4" />
<line x1="1040.18" y1="533.02" x2="1046.18" y2="533.02" stroke="#000" stroke-width="1.4" />
<line x1="1040.18" y1="517.9" x2="1046.18" y2="517.9" stroke="#000" stroke-width="1.4" />
<rect x="1039.68" y="521.96" width="7" height="7" fill="#000" stroke="none" stroke-width="0" />
<line x1="1131.88" y1="556.86" x2="1131.88" y2="504.76" stroke="#000" stroke-width="1.4" />
<line x1="1128.88" y1="556.86" x2="1134.88" y2="556.86" stroke="#000" stroke-width="1.4" />
<line x1="1128.88" y1="504.76" x2="1134.88" y2="504.76" stroke="#000" stroke-width="1.4" />
<rect x="1128.38" y="527.31" width="7" height="7" fill="#000" stroke="none" stroke-width="0" />
<rect x="1217.13" y="507.36" width="6.9" height="6.9" fill="#fff" stroke="#000" stroke-width="1.35" />
<line x1="954.48" y1="570.7" x2="954.48" y2="566.3" stroke="#000" stroke-width="1.4" />
<line x1="954.48" y1="455.7" x2="954.48" y2="460.1" stroke="#000" stroke-width="1.4" />
<line x1="1043.18" y1="570.7" x2="1043.18" y2="566.3" stroke="#000" stroke-width="1.4" />
<line x1="1043.18" y1="455.7" x2="1043.18" y2="460.1" stroke="#000" stroke-width="1.4" />
<line x1="1131.88" y1="570.7" x2="1131.88" y2="566.3" stroke="#000" stroke-width="1.4" />
<line x1="1131.88" y1="455.7" x2="1131.88" y2="460.1" stroke="#000" stroke-width="1.4" />
<line x1="1220.58" y1="570.7" x2="1220.58" y2="566.3" stroke="#000" stroke-width="1.4" />
<line x1="1220.58" y1="455.7" x2="1220.58" y2="460.1" stroke="#000" stroke-width="1.4" />
<line x1="918.9" y1="570.7" x2="925.3" y2="570.7" stroke="#000" stroke-width="1.4" />
<line x1="1238.2" y1="570.7" x2="1231.8" y2="570.7" stroke="#000" stroke-width="1.4" />
<line x1="918.9" y1="559.07" x2="922.1" y2="559.07" stroke="#000" stroke-width="1.4" />
<line x1="1238.2" y1="559.07" x2="1235" y2="559.07" stroke="#000" stroke-width="1.4" />
<line x1="918.9" y1="547.44" x2="922.1" y2="547.44" stroke="#000" stroke-width="1.4" />
<line x1="1238.2" y1="547.44" x2="1235" y2="547.44" stroke="#000" stroke-width="1.4" />
<line x1="918.9" y1="535.81" x2="922.1" y2="535.81" stroke="#000" stroke-width="1.4" />
<line x1="1238.2" y1="535.81" x2="1235" y2="535.81" stroke="#000" stroke-width="1.4" />
<line x1="918.9" y1="524.18" x2="925.3" y2="524.18" stroke="#000" stroke-width="1.4" />
<line x1="1238.2" y1="524.18" x2="1231.8" y2="524.18" stroke="#000" stroke-width="1.4" />
<line x1="918.9" y1="512.55" x2="922.1" y2="512.55" stroke="#000" stroke-width="1.4" />
<line x1="1238.2" y1="512.55" x2="1235" y2="512.55" stroke="#000" stroke-width="1.4" />
<line x1="918.9" y1="500.92" x2="922.1" y2="500.92" stroke="#000" stroke-width="1.4" />
<line x1="1238.2" y1="500.92" x2="1235" y2="500.92" stroke="#000" stroke-width="1.4" />
<line x1="918.9" y1="489.29" x2="922.1" y2="489.29" stroke="#000" stroke-width="1.4" />
<line x1="1238.2" y1="489.29" x2="1235" y2="489.29" stroke="#000" stroke-width="1.4" />
<line x1="918.9" y1="477.66" x2="925.3" y2="477.66" stroke="#000" stroke-width="1.4" />
<line x1="1238.2" y1="477.66" x2="1231.8" y2="477.66" stroke="#000" stroke-width="1.4" />
<line x1="918.9" y1="466.03" x2="922.1" y2="466.03" stroke="#000" stroke-width="1.4" />
<line x1="1238.2" y1="466.03" x2="1235" y2="466.03" stroke="#000" stroke-width="1.4" />
<text x="941.4" y="478.2" font-size="15.5" text-anchor="start" fill="#000" >n<tspan font-size="5.8" dy="3.2">H</tspan><tspan font-size="9.6">2</tspan><tspan dy="-3.2"> = 10</tspan><tspan font-size="9.4" dy="-5.5">3.5</tspan><tspan dy="5.5"> cm</tspan><tspan font-size="9.4" dy="-5.5">−3</tspan></text>
<path d="M635.38 670.3 L724.08 637.85 L812.78 610.87" fill="none" stroke="#8c8c8c" stroke-width="1.5" />
<path d="M812.78 610.87 L901.48 603.66" fill="none" stroke="#8c8c8c" stroke-width="1.5" stroke-dasharray="13.4 13.3"/>
<path d="M635.38 678.44 L724.08 662.27 L812.78 644.83" fill="none" stroke="#6e6e6e" stroke-width="1.5" />
<path d="M812.78 644.83 L901.48 634.13" fill="none" stroke="#6e6e6e" stroke-width="1.5" stroke-dasharray="13.4 13.3"/>
<path d="M635.38 681.93 L724.08 671.81 L812.78 659.6" fill="none" stroke="#484848" stroke-width="1.5" />
<path d="M812.78 659.6 L901.48 650.06" fill="none" stroke="#484848" stroke-width="1.5" stroke-dasharray="13.4 13.3"/>
<line x1="635.38" y1="664.14" x2="635.38" y2="652.51" stroke="#000" stroke-width="1.4" />
<line x1="632.38" y1="664.14" x2="638.38" y2="664.14" stroke="#000" stroke-width="1.4" />
<line x1="632.38" y1="652.51" x2="638.38" y2="652.51" stroke="#000" stroke-width="1.4" />
<rect x="631.88" y="654.82" width="7" height="7" fill="#000" stroke="none" stroke-width="0" />
<line x1="724.08" y1="648.32" x2="724.08" y2="633.2" stroke="#000" stroke-width="1.4" />
<line x1="721.08" y1="648.32" x2="727.08" y2="648.32" stroke="#000" stroke-width="1.4" />
<line x1="721.08" y1="633.2" x2="727.08" y2="633.2" stroke="#000" stroke-width="1.4" />
<rect x="720.58" y="637.26" width="7" height="7" fill="#000" stroke="none" stroke-width="0" />
<line x1="812.78" y1="672.16" x2="812.78" y2="620.06" stroke="#000" stroke-width="1.4" />
<line x1="809.78" y1="672.16" x2="815.78" y2="672.16" stroke="#000" stroke-width="1.4" />
<line x1="809.78" y1="620.06" x2="815.78" y2="620.06" stroke="#000" stroke-width="1.4" />
<rect x="809.28" y="642.61" width="7" height="7" fill="#000" stroke="none" stroke-width="0" />
<rect x="898.03" y="626.84" width="6.9" height="6.9" fill="#fff" stroke="#000" stroke-width="1.35" />
<line x1="635.38" y1="686" x2="635.38" y2="681.6" stroke="#000" stroke-width="1.4" />
<line x1="635.38" y1="570.7" x2="635.38" y2="575.1" stroke="#000" stroke-width="1.4" />
<line x1="724.08" y1="686" x2="724.08" y2="681.6" stroke="#000" stroke-width="1.4" />
<line x1="724.08" y1="570.7" x2="724.08" y2="575.1" stroke="#000" stroke-width="1.4" />
<line x1="812.78" y1="686" x2="812.78" y2="681.6" stroke="#000" stroke-width="1.4" />
<line x1="812.78" y1="570.7" x2="812.78" y2="575.1" stroke="#000" stroke-width="1.4" />
<line x1="901.48" y1="686" x2="901.48" y2="681.6" stroke="#000" stroke-width="1.4" />
<line x1="901.48" y1="570.7" x2="901.48" y2="575.1" stroke="#000" stroke-width="1.4" />
<line x1="599.8" y1="686" x2="606.2" y2="686" stroke="#000" stroke-width="1.4" />
<line x1="918.9" y1="686" x2="912.5" y2="686" stroke="#000" stroke-width="1.4" />
<line x1="599.8" y1="674.37" x2="603" y2="674.37" stroke="#000" stroke-width="1.4" />
<line x1="918.9" y1="674.37" x2="915.7" y2="674.37" stroke="#000" stroke-width="1.4" />
<line x1="599.8" y1="662.74" x2="603" y2="662.74" stroke="#000" stroke-width="1.4" />
<line x1="918.9" y1="662.74" x2="915.7" y2="662.74" stroke="#000" stroke-width="1.4" />
<line x1="599.8" y1="651.11" x2="603" y2="651.11" stroke="#000" stroke-width="1.4" />
<line x1="918.9" y1="651.11" x2="915.7" y2="651.11" stroke="#000" stroke-width="1.4" />
<line x1="599.8" y1="639.48" x2="606.2" y2="639.48" stroke="#000" stroke-width="1.4" />
<line x1="918.9" y1="639.48" x2="912.5" y2="639.48" stroke="#000" stroke-width="1.4" />
<line x1="599.8" y1="627.85" x2="603" y2="627.85" stroke="#000" stroke-width="1.4" />
<line x1="918.9" y1="627.85" x2="915.7" y2="627.85" stroke="#000" stroke-width="1.4" />
<line x1="599.8" y1="616.22" x2="603" y2="616.22" stroke="#000" stroke-width="1.4" />
<line x1="918.9" y1="616.22" x2="915.7" y2="616.22" stroke="#000" stroke-width="1.4" />
<line x1="599.8" y1="604.59" x2="603" y2="604.59" stroke="#000" stroke-width="1.4" />
<line x1="918.9" y1="604.59" x2="915.7" y2="604.59" stroke="#000" stroke-width="1.4" />
<line x1="599.8" y1="592.96" x2="606.2" y2="592.96" stroke="#000" stroke-width="1.4" />
<line x1="918.9" y1="592.96" x2="912.5" y2="592.96" stroke="#000" stroke-width="1.4" />
<line x1="599.8" y1="581.33" x2="603" y2="581.33" stroke="#000" stroke-width="1.4" />
<line x1="918.9" y1="581.33" x2="915.7" y2="581.33" stroke="#000" stroke-width="1.4" />
<text x="622.3" y="593.2" font-size="15.5" text-anchor="start" fill="#000" >n<tspan font-size="5.8" dy="3.2">H</tspan><tspan font-size="9.6">2</tspan><tspan dy="-3.2"> = 10</tspan><tspan font-size="9.4" dy="-5.5">2</tspan><tspan dy="5.5"> cm</tspan><tspan font-size="9.4" dy="-5.5">−3</tspan></text>
<text x="593.8" y="687.7" font-size="18.3" text-anchor="end" fill="#000" >0.000</text>
<text x="593.8" y="645.78" font-size="18.3" text-anchor="end" fill="#000" >0.004</text>
<text x="593.8" y="599.26" font-size="18.3" text-anchor="end" fill="#000" >0.008</text>
<text x="635.38" y="709.4" font-size="18.3" text-anchor="middle" fill="#000" >1</text>
<text x="724.08" y="709.4" font-size="18.3" text-anchor="middle" fill="#000" >2</text>
<text x="812.78" y="709.4" font-size="18.3" text-anchor="middle" fill="#000" >3</text>
<text x="901.48" y="709.4" font-size="18.3" text-anchor="middle" fill="#000" >4</text>
<path d="M954.48 670.53 L1043.18 637.39 L1131.88 611.1" fill="none" stroke="#8c8c8c" stroke-width="1.5" />
<path d="M1131.88 611.1 L1220.58 604.01" fill="none" stroke="#8c8c8c" stroke-width="1.5" stroke-dasharray="13.4 13.3"/>
<path d="M954.48 678.32 L1043.18 661.81 L1131.88 644.25" fill="none" stroke="#6e6e6e" stroke-width="1.5" />
<path d="M1131.88 644.25 L1220.58 632.97" fill="none" stroke="#6e6e6e" stroke-width="1.5" stroke-dasharray="13.4 13.3"/>
<path d="M954.48 681 L1043.18 671.58 L1131.88 659.13" fill="none" stroke="#484848" stroke-width="1.5" />
<path d="M1131.88 659.13 L1220.58 649.48" fill="none" stroke="#484848" stroke-width="1.5" stroke-dasharray="13.4 13.3"/>
<line x1="954.48" y1="664.14" x2="954.48" y2="652.51" stroke="#000" stroke-width="1.4" />
<line x1="951.48" y1="664.14" x2="957.48" y2="664.14" stroke="#000" stroke-width="1.4" />
<line x1="951.48" y1="652.51" x2="957.48" y2="652.51" stroke="#000" stroke-width="1.4" />
<rect x="950.98" y="654.82" width="7" height="7" fill="#000" stroke="none" stroke-width="0" />
<line x1="1043.18" y1="648.32" x2="1043.18" y2="633.2" stroke="#000" stroke-width="1.4" />
<line x1="1040.18" y1="648.32" x2="1046.18" y2="648.32" stroke="#000" stroke-width="1.4" />
<line x1="1040.18" y1="633.2" x2="1046.18" y2="633.2" stroke="#000" stroke-width="1.4" />
<rect x="1039.68" y="637.26" width="7" height="7" fill="#000" stroke="none" stroke-width="0" />
<line x1="1131.88" y1="672.16" x2="1131.88" y2="620.06" stroke="#000" stroke-width="1.4" />
<line x1="1128.88" y1="672.16" x2="1134.88" y2="672.16" stroke="#000" stroke-width="1.4" />
<line x1="1128.88" y1="620.06" x2="1134.88" y2="620.06" stroke="#000" stroke-width="1.4" />
<rect x="1128.38" y="642.61" width="7" height="7" fill="#000" stroke="none" stroke-width="0" />
<rect x="1217.13" y="622.66" width="6.9" height="6.9" fill="#fff" stroke="#000" stroke-width="1.35" />
<line x1="954.48" y1="686" x2="954.48" y2="681.6" stroke="#000" stroke-width="1.4" />
<line x1="954.48" y1="570.7" x2="954.48" y2="575.1" stroke="#000" stroke-width="1.4" />
<line x1="1043.18" y1="686" x2="1043.18" y2="681.6" stroke="#000" stroke-width="1.4" />
<line x1="1043.18" y1="570.7" x2="1043.18" y2="575.1" stroke="#000" stroke-width="1.4" />
<line x1="1131.88" y1="686" x2="1131.88" y2="681.6" stroke="#000" stroke-width="1.4" />
<line x1="1131.88" y1="570.7" x2="1131.88" y2="575.1" stroke="#000" stroke-width="1.4" />
<line x1="1220.58" y1="686" x2="1220.58" y2="681.6" stroke="#000" stroke-width="1.4" />
<line x1="1220.58" y1="570.7" x2="1220.58" y2="575.1" stroke="#000" stroke-width="1.4" />
<line x1="918.9" y1="686" x2="925.3" y2="686" stroke="#000" stroke-width="1.4" />
<line x1="1238.2" y1="686" x2="1231.8" y2="686" stroke="#000" stroke-width="1.4" />
<line x1="918.9" y1="674.37" x2="922.1" y2="674.37" stroke="#000" stroke-width="1.4" />
<line x1="1238.2" y1="674.37" x2="1235" y2="674.37" stroke="#000" stroke-width="1.4" />
<line x1="918.9" y1="662.74" x2="922.1" y2="662.74" stroke="#000" stroke-width="1.4" />
<line x1="1238.2" y1="662.74" x2="1235" y2="662.74" stroke="#000" stroke-width="1.4" />
<line x1="918.9" y1="651.11" x2="922.1" y2="651.11" stroke="#000" stroke-width="1.4" />
<line x1="1238.2" y1="651.11" x2="1235" y2="651.11" stroke="#000" stroke-width="1.4" />
<line x1="918.9" y1="639.48" x2="925.3" y2="639.48" stroke="#000" stroke-width="1.4" />
<line x1="1238.2" y1="639.48" x2="1231.8" y2="639.48" stroke="#000" stroke-width="1.4" />
<line x1="918.9" y1="627.85" x2="922.1" y2="627.85" stroke="#000" stroke-width="1.4" />
<line x1="1238.2" y1="627.85" x2="1235" y2="627.85" stroke="#000" stroke-width="1.4" />
<line x1="918.9" y1="616.22" x2="922.1" y2="616.22" stroke="#000" stroke-width="1.4" />
<line x1="1238.2" y1="616.22" x2="1235" y2="616.22" stroke="#000" stroke-width="1.4" />
<line x1="918.9" y1="604.59" x2="922.1" y2="604.59" stroke="#000" stroke-width="1.4" />
<line x1="1238.2" y1="604.59" x2="1235" y2="604.59" stroke="#000" stroke-width="1.4" />
<line x1="918.9" y1="592.96" x2="925.3" y2="592.96" stroke="#000" stroke-width="1.4" />
<line x1="1238.2" y1="592.96" x2="1231.8" y2="592.96" stroke="#000" stroke-width="1.4" />
<line x1="918.9" y1="581.33" x2="922.1" y2="581.33" stroke="#000" stroke-width="1.4" />
<line x1="1238.2" y1="581.33" x2="1235" y2="581.33" stroke="#000" stroke-width="1.4" />
<text x="941.4" y="593.2" font-size="15.5" text-anchor="start" fill="#000" >n<tspan font-size="5.8" dy="3.2">H</tspan><tspan font-size="9.6">2</tspan><tspan dy="-3.2"> = 10</tspan><tspan font-size="9.4" dy="-5.5">2.5</tspan><tspan dy="5.5"> cm</tspan><tspan font-size="9.4" dy="-5.5">−3</tspan></text>
<text x="954.48" y="709.4" font-size="18.3" text-anchor="middle" fill="#000" >1</text>
<text x="1043.18" y="709.4" font-size="18.3" text-anchor="middle" fill="#000" >2</text>
<text x="1131.88" y="709.4" font-size="18.3" text-anchor="middle" fill="#000" >3</text>
<text x="1220.58" y="709.4" font-size="18.3" text-anchor="middle" fill="#000" >4</text>
<rect x="599.8" y="341" width="638.4" height="345" fill="none" stroke="#000" stroke-width="1.6" />
<line x1="918.9" y1="341" x2="918.9" y2="686" stroke="#000" stroke-width="1.6" />
<line x1="599.8" y1="455.7" x2="1238.2" y2="455.7" stroke="#000" stroke-width="1.6" />
<line x1="599.8" y1="570.7" x2="1238.2" y2="570.7" stroke="#000" stroke-width="1.6" />
<text x="919" y="314.3" font-size="18.3" text-anchor="middle" fill="#000" textLength="116.3">non−LTE radex</text>
<text x="759" y="329.8" font-size="18.3" text-anchor="middle" fill="#000" >T<tspan font-size="10.8" dy="4">K</tspan><tspan dy="-4"> = 10 K</tspan></text>
<text x="1077" y="329.8" font-size="18.3" text-anchor="middle" fill="#000" >T<tspan font-size="10.8" dy="4">K</tspan><tspan dy="-4"> = 30 K</tspan></text>
<text x="919" y="735.3" font-size="18.3" text-anchor="middle" fill="#000" textLength="192.6">CO Absorption Transition</text>
<text x="536.2" y="513.3" font-size="18.3" text-anchor="middle" fill="#000" transform="rotate(-90 536.2 513.3)"><tspan font-size="20.8">τ</tspan><tspan font-size="10.8" dy="4.2">0</tspan></text>
</g>
</svg>
</body>
</html>
